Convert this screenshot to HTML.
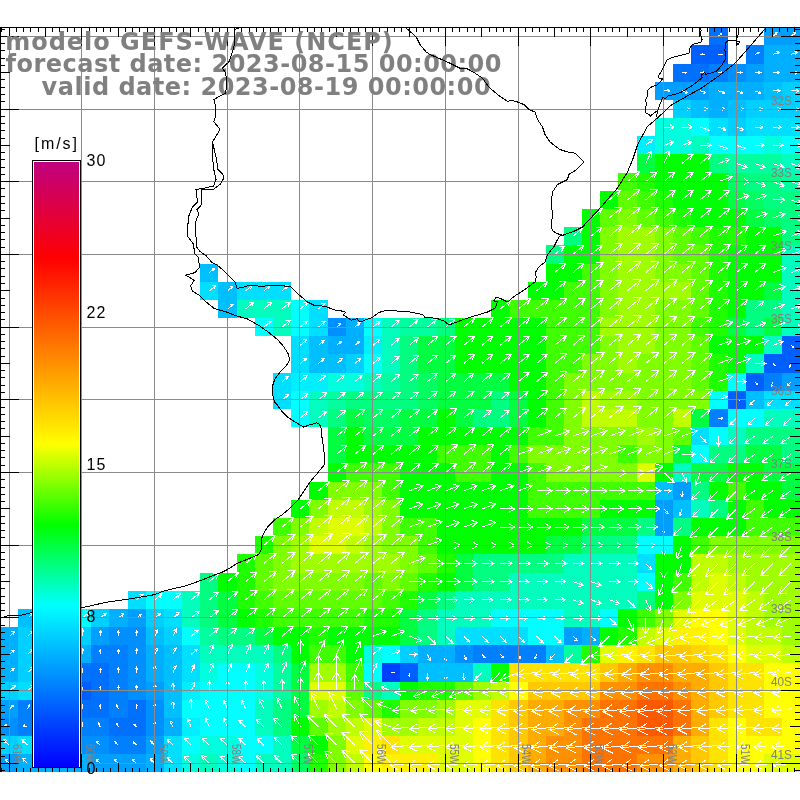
<!DOCTYPE html><html><head><meta charset="utf-8"><title>GEFS-WAVE</title><style>html,body{margin:0;padding:0;background:#fff;width:800px;height:800px;overflow:hidden}svg{position:absolute;left:0;top:0}</style></head><body>
<svg width="800" height="800" viewBox="0 0 800 800">
<defs><linearGradient id="cb" x1="0" y1="1" x2="0" y2="0">
<stop offset="0.0000" stop-color="#0000ff"/>
<stop offset="0.2667" stop-color="#00ffff"/>
<stop offset="0.4000" stop-color="#00ff00"/>
<stop offset="0.5333" stop-color="#ffff00"/>
<stop offset="0.8400" stop-color="#ff0000"/>
<stop offset="1.0000" stop-color="#c00080"/>
</linearGradient></defs>
<g shape-rendering="crispEdges">
<rect x="709" y="27" width="19" height="18" fill="#0070ff"/>
<rect x="764" y="27" width="36" height="18" fill="#009fff"/>
<rect x="691" y="45" width="37" height="19" fill="#0060ff"/>
<rect x="746" y="45" width="18" height="19" fill="#0080ff"/>
<rect x="764" y="45" width="36" height="19" fill="#00afff"/>
<rect x="673" y="64" width="36" height="18" fill="#0070ff"/>
<rect x="709" y="64" width="19" height="18" fill="#0080ff"/>
<rect x="728" y="64" width="18" height="18" fill="#008fff"/>
<rect x="746" y="64" width="18" height="18" fill="#009fff"/>
<rect x="764" y="64" width="36" height="18" fill="#00afff"/>
<rect x="655" y="82" width="54" height="18" fill="#009fff"/>
<rect x="709" y="82" width="55" height="18" fill="#00afff"/>
<rect x="764" y="82" width="18" height="18" fill="#00bfff"/>
<rect x="782" y="82" width="18" height="18" fill="#00cfff"/>
<rect x="673" y="100" width="18" height="18" fill="#00cfff"/>
<rect x="691" y="100" width="18" height="18" fill="#00bfff"/>
<rect x="709" y="100" width="19" height="18" fill="#00afff"/>
<rect x="728" y="100" width="18" height="18" fill="#00bfff"/>
<rect x="746" y="100" width="54" height="18" fill="#00cfff"/>
<rect x="655" y="118" width="36" height="18" fill="#00ffdf"/>
<rect x="691" y="118" width="18" height="18" fill="#00ffff"/>
<rect x="709" y="118" width="19" height="18" fill="#00dfff"/>
<rect x="728" y="118" width="18" height="18" fill="#00cfff"/>
<rect x="746" y="118" width="54" height="18" fill="#00dfff"/>
<rect x="637" y="136" width="18" height="18" fill="#00efff"/>
<rect x="655" y="136" width="36" height="18" fill="#00ffdf"/>
<rect x="691" y="136" width="18" height="18" fill="#00ffbf"/>
<rect x="709" y="136" width="55" height="18" fill="#00ffff"/>
<rect x="764" y="136" width="18" height="18" fill="#00ffdf"/>
<rect x="782" y="136" width="18" height="18" fill="#00ffff"/>
<rect x="637" y="154" width="18" height="19" fill="#00ff40"/>
<rect x="655" y="154" width="54" height="19" fill="#00ff00"/>
<rect x="709" y="154" width="19" height="19" fill="#00ff80"/>
<rect x="728" y="154" width="54" height="19" fill="#00ff9f"/>
<rect x="782" y="154" width="18" height="19" fill="#00ffbf"/>
<rect x="618" y="173" width="19" height="18" fill="#40ff00"/>
<rect x="637" y="173" width="18" height="18" fill="#20ff00"/>
<rect x="655" y="173" width="73" height="18" fill="#00ff00"/>
<rect x="728" y="173" width="18" height="18" fill="#00ff60"/>
<rect x="746" y="173" width="36" height="18" fill="#00ff80"/>
<rect x="782" y="173" width="18" height="18" fill="#00ff9f"/>
<rect x="600" y="191" width="18" height="18" fill="#00ff00"/>
<rect x="618" y="191" width="19" height="18" fill="#60ff00"/>
<rect x="637" y="191" width="18" height="18" fill="#40ff00"/>
<rect x="655" y="191" width="18" height="18" fill="#20ff00"/>
<rect x="673" y="191" width="55" height="18" fill="#00ff00"/>
<rect x="728" y="191" width="18" height="18" fill="#00ff40"/>
<rect x="746" y="191" width="18" height="18" fill="#00ff60"/>
<rect x="764" y="191" width="36" height="18" fill="#00ff80"/>
<rect x="582" y="209" width="18" height="18" fill="#00ff00"/>
<rect x="600" y="209" width="18" height="18" fill="#60ff00"/>
<rect x="618" y="209" width="19" height="18" fill="#80ff00"/>
<rect x="637" y="209" width="18" height="18" fill="#60ff00"/>
<rect x="655" y="209" width="18" height="18" fill="#40ff00"/>
<rect x="673" y="209" width="18" height="18" fill="#20ff00"/>
<rect x="691" y="209" width="55" height="18" fill="#00ff00"/>
<rect x="746" y="209" width="18" height="18" fill="#00ff40"/>
<rect x="764" y="209" width="18" height="18" fill="#00ff60"/>
<rect x="782" y="209" width="18" height="18" fill="#00ff80"/>
<rect x="564" y="227" width="18" height="18" fill="#00ff80"/>
<rect x="582" y="227" width="18" height="18" fill="#00ff00"/>
<rect x="600" y="227" width="18" height="18" fill="#80ff00"/>
<rect x="618" y="227" width="37" height="18" fill="#9fff00"/>
<rect x="655" y="227" width="18" height="18" fill="#80ff00"/>
<rect x="673" y="227" width="18" height="18" fill="#60ff00"/>
<rect x="691" y="227" width="18" height="18" fill="#40ff00"/>
<rect x="709" y="227" width="37" height="18" fill="#20ff00"/>
<rect x="746" y="227" width="36" height="18" fill="#00ff00"/>
<rect x="782" y="227" width="18" height="18" fill="#00ff80"/>
<rect x="546" y="245" width="18" height="19" fill="#00ff80"/>
<rect x="564" y="245" width="36" height="19" fill="#00ff00"/>
<rect x="600" y="245" width="18" height="19" fill="#80ff00"/>
<rect x="618" y="245" width="37" height="19" fill="#9fff00"/>
<rect x="655" y="245" width="18" height="19" fill="#80ff00"/>
<rect x="673" y="245" width="36" height="19" fill="#60ff00"/>
<rect x="709" y="245" width="19" height="19" fill="#20ff00"/>
<rect x="728" y="245" width="54" height="19" fill="#00ff00"/>
<rect x="782" y="245" width="18" height="19" fill="#00ffbf"/>
<rect x="200" y="264" width="18" height="18" fill="#00bfff"/>
<rect x="546" y="264" width="36" height="18" fill="#00ff00"/>
<rect x="582" y="264" width="18" height="18" fill="#40ff00"/>
<rect x="600" y="264" width="18" height="18" fill="#80ff00"/>
<rect x="618" y="264" width="37" height="18" fill="#9fff00"/>
<rect x="655" y="264" width="36" height="18" fill="#80ff00"/>
<rect x="691" y="264" width="18" height="18" fill="#60ff00"/>
<rect x="709" y="264" width="19" height="18" fill="#20ff00"/>
<rect x="728" y="264" width="54" height="18" fill="#00ff00"/>
<rect x="782" y="264" width="18" height="18" fill="#00ffbf"/>
<rect x="200" y="282" width="18" height="18" fill="#00dfff"/>
<rect x="218" y="282" width="19" height="18" fill="#00bfff"/>
<rect x="237" y="282" width="54" height="18" fill="#00dfff"/>
<rect x="528" y="282" width="36" height="18" fill="#00ff00"/>
<rect x="564" y="282" width="36" height="18" fill="#40ff00"/>
<rect x="600" y="282" width="18" height="18" fill="#80ff00"/>
<rect x="618" y="282" width="73" height="18" fill="#9fff00"/>
<rect x="691" y="282" width="18" height="18" fill="#60ff00"/>
<rect x="709" y="282" width="19" height="18" fill="#20ff00"/>
<rect x="728" y="282" width="36" height="18" fill="#00ff00"/>
<rect x="764" y="282" width="18" height="18" fill="#00ff40"/>
<rect x="782" y="282" width="18" height="18" fill="#00ffbf"/>
<rect x="218" y="300" width="19" height="18" fill="#00bfff"/>
<rect x="237" y="300" width="54" height="18" fill="#00ffbf"/>
<rect x="291" y="300" width="18" height="18" fill="#00ffff"/>
<rect x="309" y="300" width="19" height="18" fill="#00dfff"/>
<rect x="491" y="300" width="18" height="18" fill="#00ff00"/>
<rect x="509" y="300" width="91" height="18" fill="#40ff00"/>
<rect x="600" y="300" width="18" height="18" fill="#80ff00"/>
<rect x="618" y="300" width="37" height="18" fill="#9fff00"/>
<rect x="655" y="300" width="36" height="18" fill="#80ff00"/>
<rect x="691" y="300" width="18" height="18" fill="#60ff00"/>
<rect x="709" y="300" width="19" height="18" fill="#20ff00"/>
<rect x="728" y="300" width="18" height="18" fill="#00ff00"/>
<rect x="746" y="300" width="36" height="18" fill="#00ff80"/>
<rect x="782" y="300" width="18" height="18" fill="#00ffbf"/>
<rect x="255" y="318" width="18" height="18" fill="#00ffff"/>
<rect x="273" y="318" width="18" height="18" fill="#00ffbf"/>
<rect x="291" y="318" width="18" height="18" fill="#00ffff"/>
<rect x="309" y="318" width="19" height="18" fill="#00dfff"/>
<rect x="328" y="318" width="18" height="18" fill="#008fff"/>
<rect x="346" y="318" width="18" height="18" fill="#00afff"/>
<rect x="364" y="318" width="18" height="18" fill="#00ffff"/>
<rect x="382" y="318" width="18" height="18" fill="#00ffbf"/>
<rect x="400" y="318" width="37" height="18" fill="#00ff9f"/>
<rect x="437" y="318" width="18" height="18" fill="#00ff80"/>
<rect x="455" y="318" width="91" height="18" fill="#00ff00"/>
<rect x="546" y="318" width="54" height="18" fill="#40ff00"/>
<rect x="600" y="318" width="55" height="18" fill="#9fff00"/>
<rect x="655" y="318" width="36" height="18" fill="#80ff00"/>
<rect x="691" y="318" width="18" height="18" fill="#40ff00"/>
<rect x="709" y="318" width="19" height="18" fill="#20ff00"/>
<rect x="728" y="318" width="18" height="18" fill="#00ff40"/>
<rect x="746" y="318" width="18" height="18" fill="#00ff80"/>
<rect x="764" y="318" width="18" height="18" fill="#00ff40"/>
<rect x="782" y="318" width="18" height="18" fill="#00ffbf"/>
<rect x="291" y="336" width="18" height="18" fill="#00dfff"/>
<rect x="309" y="336" width="19" height="18" fill="#00bfff"/>
<rect x="328" y="336" width="36" height="18" fill="#00afff"/>
<rect x="364" y="336" width="18" height="18" fill="#00efff"/>
<rect x="382" y="336" width="18" height="18" fill="#00ffbf"/>
<rect x="400" y="336" width="18" height="18" fill="#00ff80"/>
<rect x="418" y="336" width="37" height="18" fill="#00ff40"/>
<rect x="455" y="336" width="91" height="18" fill="#00ff00"/>
<rect x="546" y="336" width="54" height="18" fill="#40ff00"/>
<rect x="600" y="336" width="18" height="18" fill="#80ff00"/>
<rect x="618" y="336" width="37" height="18" fill="#9fff00"/>
<rect x="655" y="336" width="36" height="18" fill="#80ff00"/>
<rect x="691" y="336" width="18" height="18" fill="#60ff00"/>
<rect x="709" y="336" width="55" height="18" fill="#00ff00"/>
<rect x="764" y="336" width="18" height="18" fill="#00ffbf"/>
<rect x="782" y="336" width="18" height="18" fill="#0060ff"/>
<rect x="291" y="354" width="18" height="19" fill="#00dfff"/>
<rect x="309" y="354" width="37" height="19" fill="#00bfff"/>
<rect x="346" y="354" width="18" height="19" fill="#00cfff"/>
<rect x="364" y="354" width="18" height="19" fill="#00ffff"/>
<rect x="382" y="354" width="18" height="19" fill="#00ffbf"/>
<rect x="400" y="354" width="18" height="19" fill="#00ff80"/>
<rect x="418" y="354" width="37" height="19" fill="#00ff40"/>
<rect x="455" y="354" width="91" height="19" fill="#00ff00"/>
<rect x="546" y="354" width="36" height="19" fill="#40ff00"/>
<rect x="582" y="354" width="36" height="19" fill="#80ff00"/>
<rect x="618" y="354" width="19" height="19" fill="#9fff00"/>
<rect x="637" y="354" width="54" height="19" fill="#80ff00"/>
<rect x="691" y="354" width="18" height="19" fill="#60ff00"/>
<rect x="709" y="354" width="19" height="19" fill="#20ff00"/>
<rect x="728" y="354" width="18" height="19" fill="#00ff00"/>
<rect x="746" y="354" width="18" height="19" fill="#00ffbf"/>
<rect x="764" y="354" width="36" height="19" fill="#0060ff"/>
<rect x="273" y="373" width="18" height="18" fill="#00dfff"/>
<rect x="291" y="373" width="37" height="18" fill="#00efff"/>
<rect x="328" y="373" width="36" height="18" fill="#00ffdf"/>
<rect x="364" y="373" width="18" height="18" fill="#00ffbf"/>
<rect x="382" y="373" width="18" height="18" fill="#00ff9f"/>
<rect x="400" y="373" width="18" height="18" fill="#00ff80"/>
<rect x="418" y="373" width="19" height="18" fill="#00ff60"/>
<rect x="437" y="373" width="72" height="18" fill="#00ff40"/>
<rect x="509" y="373" width="37" height="18" fill="#00ff00"/>
<rect x="546" y="373" width="18" height="18" fill="#40ff00"/>
<rect x="564" y="373" width="127" height="18" fill="#80ff00"/>
<rect x="691" y="373" width="18" height="18" fill="#60ff00"/>
<rect x="709" y="373" width="19" height="18" fill="#20ff00"/>
<rect x="728" y="373" width="18" height="18" fill="#00ffff"/>
<rect x="746" y="373" width="18" height="18" fill="#0060ff"/>
<rect x="764" y="373" width="18" height="18" fill="#0080ff"/>
<rect x="782" y="373" width="18" height="18" fill="#009fff"/>
<rect x="273" y="391" width="18" height="18" fill="#00dfff"/>
<rect x="291" y="391" width="18" height="18" fill="#00ffff"/>
<rect x="309" y="391" width="19" height="18" fill="#00ffbf"/>
<rect x="328" y="391" width="18" height="18" fill="#00ff9f"/>
<rect x="346" y="391" width="72" height="18" fill="#00ff80"/>
<rect x="418" y="391" width="19" height="18" fill="#00ff60"/>
<rect x="437" y="391" width="54" height="18" fill="#00ff40"/>
<rect x="491" y="391" width="18" height="18" fill="#00ff80"/>
<rect x="509" y="391" width="19" height="18" fill="#00ff40"/>
<rect x="528" y="391" width="18" height="18" fill="#00ff00"/>
<rect x="546" y="391" width="18" height="18" fill="#40ff00"/>
<rect x="564" y="391" width="18" height="18" fill="#80ff00"/>
<rect x="582" y="391" width="18" height="18" fill="#bfff00"/>
<rect x="600" y="391" width="37" height="18" fill="#9fff00"/>
<rect x="637" y="391" width="72" height="18" fill="#80ff00"/>
<rect x="709" y="391" width="19" height="18" fill="#00ffff"/>
<rect x="728" y="391" width="18" height="18" fill="#0060ff"/>
<rect x="746" y="391" width="18" height="18" fill="#00bfff"/>
<rect x="764" y="391" width="36" height="18" fill="#00dfff"/>
<rect x="291" y="409" width="18" height="18" fill="#00ffff"/>
<rect x="309" y="409" width="19" height="18" fill="#00ffbf"/>
<rect x="328" y="409" width="18" height="18" fill="#00ff80"/>
<rect x="346" y="409" width="18" height="18" fill="#00ff40"/>
<rect x="364" y="409" width="36" height="18" fill="#00ff60"/>
<rect x="400" y="409" width="37" height="18" fill="#00ff40"/>
<rect x="437" y="409" width="18" height="18" fill="#00ff00"/>
<rect x="455" y="409" width="18" height="18" fill="#00ff40"/>
<rect x="473" y="409" width="36" height="18" fill="#00ff80"/>
<rect x="509" y="409" width="19" height="18" fill="#00ff40"/>
<rect x="528" y="409" width="18" height="18" fill="#00ff00"/>
<rect x="546" y="409" width="18" height="18" fill="#40ff00"/>
<rect x="564" y="409" width="18" height="18" fill="#80ff00"/>
<rect x="582" y="409" width="55" height="18" fill="#bfff00"/>
<rect x="637" y="409" width="36" height="18" fill="#80ff00"/>
<rect x="673" y="409" width="18" height="18" fill="#bfff00"/>
<rect x="691" y="409" width="18" height="18" fill="#00ff40"/>
<rect x="709" y="409" width="19" height="18" fill="#0080ff"/>
<rect x="728" y="409" width="36" height="18" fill="#00ffff"/>
<rect x="764" y="409" width="36" height="18" fill="#00ffbf"/>
<rect x="328" y="427" width="18" height="18" fill="#00ff40"/>
<rect x="346" y="427" width="18" height="18" fill="#00ff00"/>
<rect x="364" y="427" width="54" height="18" fill="#00ff40"/>
<rect x="418" y="427" width="110" height="18" fill="#00ff00"/>
<rect x="528" y="427" width="36" height="18" fill="#40ff00"/>
<rect x="564" y="427" width="73" height="18" fill="#80ff00"/>
<rect x="637" y="427" width="18" height="18" fill="#9fff00"/>
<rect x="655" y="427" width="18" height="18" fill="#80ff00"/>
<rect x="673" y="427" width="18" height="18" fill="#60ff00"/>
<rect x="691" y="427" width="18" height="18" fill="#00dfff"/>
<rect x="709" y="427" width="19" height="18" fill="#00ffff"/>
<rect x="728" y="427" width="18" height="18" fill="#00ffbf"/>
<rect x="746" y="427" width="54" height="18" fill="#00ff80"/>
<rect x="328" y="445" width="18" height="18" fill="#00ff40"/>
<rect x="346" y="445" width="91" height="18" fill="#00ff00"/>
<rect x="437" y="445" width="54" height="18" fill="#40ff00"/>
<rect x="491" y="445" width="18" height="18" fill="#00ff00"/>
<rect x="509" y="445" width="19" height="18" fill="#40ff00"/>
<rect x="528" y="445" width="90" height="18" fill="#80ff00"/>
<rect x="618" y="445" width="19" height="18" fill="#40ff00"/>
<rect x="637" y="445" width="36" height="18" fill="#80ff00"/>
<rect x="673" y="445" width="18" height="18" fill="#00ff40"/>
<rect x="691" y="445" width="18" height="18" fill="#00ffff"/>
<rect x="709" y="445" width="37" height="18" fill="#00ff80"/>
<rect x="746" y="445" width="36" height="18" fill="#00ff40"/>
<rect x="782" y="445" width="18" height="18" fill="#00ff80"/>
<rect x="328" y="463" width="18" height="19" fill="#00ff00"/>
<rect x="346" y="463" width="54" height="19" fill="#40ff00"/>
<rect x="400" y="463" width="55" height="19" fill="#00ff00"/>
<rect x="455" y="463" width="36" height="19" fill="#40ff00"/>
<rect x="491" y="463" width="37" height="19" fill="#00ff00"/>
<rect x="528" y="463" width="18" height="19" fill="#40ff00"/>
<rect x="546" y="463" width="91" height="19" fill="#80ff00"/>
<rect x="637" y="463" width="18" height="19" fill="#dfff00"/>
<rect x="655" y="463" width="18" height="19" fill="#00ff00"/>
<rect x="673" y="463" width="18" height="19" fill="#00ffbf"/>
<rect x="691" y="463" width="37" height="19" fill="#00ff40"/>
<rect x="728" y="463" width="36" height="19" fill="#00ff00"/>
<rect x="764" y="463" width="36" height="19" fill="#00ff40"/>
<rect x="309" y="482" width="19" height="18" fill="#00ff00"/>
<rect x="328" y="482" width="54" height="18" fill="#80ff00"/>
<rect x="382" y="482" width="18" height="18" fill="#40ff00"/>
<rect x="400" y="482" width="128" height="18" fill="#00ff00"/>
<rect x="528" y="482" width="127" height="18" fill="#40ff00"/>
<rect x="655" y="482" width="18" height="18" fill="#00bfff"/>
<rect x="673" y="482" width="18" height="18" fill="#009fff"/>
<rect x="691" y="482" width="18" height="18" fill="#00ff80"/>
<rect x="709" y="482" width="19" height="18" fill="#00ff00"/>
<rect x="728" y="482" width="18" height="18" fill="#40ff00"/>
<rect x="746" y="482" width="36" height="18" fill="#00ff00"/>
<rect x="782" y="482" width="18" height="18" fill="#00ff40"/>
<rect x="291" y="500" width="18" height="18" fill="#00ff00"/>
<rect x="309" y="500" width="19" height="18" fill="#80ff00"/>
<rect x="328" y="500" width="36" height="18" fill="#bfff00"/>
<rect x="364" y="500" width="18" height="18" fill="#9fff00"/>
<rect x="382" y="500" width="18" height="18" fill="#80ff00"/>
<rect x="400" y="500" width="128" height="18" fill="#00ff00"/>
<rect x="528" y="500" width="72" height="18" fill="#40ff00"/>
<rect x="600" y="500" width="55" height="18" fill="#00ff00"/>
<rect x="655" y="500" width="18" height="18" fill="#009fff"/>
<rect x="673" y="500" width="18" height="18" fill="#00bfff"/>
<rect x="691" y="500" width="18" height="18" fill="#00ffbf"/>
<rect x="709" y="500" width="19" height="18" fill="#00ff80"/>
<rect x="728" y="500" width="18" height="18" fill="#00ff00"/>
<rect x="746" y="500" width="18" height="18" fill="#40ff00"/>
<rect x="764" y="500" width="36" height="18" fill="#00ff00"/>
<rect x="273" y="518" width="18" height="18" fill="#40ff00"/>
<rect x="291" y="518" width="18" height="18" fill="#80ff00"/>
<rect x="309" y="518" width="19" height="18" fill="#bfff00"/>
<rect x="328" y="518" width="36" height="18" fill="#dfff00"/>
<rect x="364" y="518" width="18" height="18" fill="#bfff00"/>
<rect x="382" y="518" width="18" height="18" fill="#80ff00"/>
<rect x="400" y="518" width="37" height="18" fill="#40ff00"/>
<rect x="437" y="518" width="145" height="18" fill="#00ff00"/>
<rect x="582" y="518" width="55" height="18" fill="#00ff40"/>
<rect x="637" y="518" width="18" height="18" fill="#00ff80"/>
<rect x="655" y="518" width="18" height="18" fill="#009fff"/>
<rect x="673" y="518" width="18" height="18" fill="#00ff80"/>
<rect x="691" y="518" width="55" height="18" fill="#00ff00"/>
<rect x="746" y="518" width="54" height="18" fill="#40ff00"/>
<rect x="255" y="536" width="18" height="18" fill="#20ff00"/>
<rect x="273" y="536" width="18" height="18" fill="#80ff00"/>
<rect x="291" y="536" width="18" height="18" fill="#9fff00"/>
<rect x="309" y="536" width="37" height="18" fill="#dfff00"/>
<rect x="346" y="536" width="18" height="18" fill="#bfff00"/>
<rect x="364" y="536" width="18" height="18" fill="#9fff00"/>
<rect x="382" y="536" width="36" height="18" fill="#80ff00"/>
<rect x="418" y="536" width="19" height="18" fill="#40ff00"/>
<rect x="437" y="536" width="109" height="18" fill="#00ff00"/>
<rect x="546" y="536" width="36" height="18" fill="#00ff40"/>
<rect x="582" y="536" width="55" height="18" fill="#00ff80"/>
<rect x="637" y="536" width="36" height="18" fill="#00ffff"/>
<rect x="673" y="536" width="18" height="18" fill="#00ff00"/>
<rect x="691" y="536" width="18" height="18" fill="#40ff00"/>
<rect x="709" y="536" width="91" height="18" fill="#80ff00"/>
<rect x="237" y="554" width="18" height="19" fill="#20ff00"/>
<rect x="255" y="554" width="18" height="19" fill="#60ff00"/>
<rect x="273" y="554" width="18" height="19" fill="#80ff00"/>
<rect x="291" y="554" width="109" height="19" fill="#9fff00"/>
<rect x="400" y="554" width="18" height="19" fill="#80ff00"/>
<rect x="418" y="554" width="19" height="19" fill="#60ff00"/>
<rect x="437" y="554" width="18" height="19" fill="#20ff00"/>
<rect x="455" y="554" width="18" height="19" fill="#00ff40"/>
<rect x="473" y="554" width="91" height="19" fill="#00ff80"/>
<rect x="564" y="554" width="73" height="19" fill="#00ffbf"/>
<rect x="637" y="554" width="18" height="19" fill="#00dfff"/>
<rect x="655" y="554" width="36" height="19" fill="#00ff00"/>
<rect x="691" y="554" width="37" height="19" fill="#bfff00"/>
<rect x="728" y="554" width="72" height="19" fill="#9fff00"/>
<rect x="200" y="573" width="18" height="18" fill="#00ff80"/>
<rect x="218" y="573" width="19" height="18" fill="#00ff00"/>
<rect x="237" y="573" width="18" height="18" fill="#20ff00"/>
<rect x="255" y="573" width="18" height="18" fill="#60ff00"/>
<rect x="273" y="573" width="91" height="18" fill="#80ff00"/>
<rect x="364" y="573" width="18" height="18" fill="#60ff00"/>
<rect x="382" y="573" width="18" height="18" fill="#80ff00"/>
<rect x="400" y="573" width="18" height="18" fill="#60ff00"/>
<rect x="418" y="573" width="19" height="18" fill="#20ff00"/>
<rect x="437" y="573" width="18" height="18" fill="#00ff00"/>
<rect x="455" y="573" width="18" height="18" fill="#00ff40"/>
<rect x="473" y="573" width="36" height="18" fill="#00ff80"/>
<rect x="509" y="573" width="128" height="18" fill="#00ffbf"/>
<rect x="637" y="573" width="18" height="18" fill="#00ffff"/>
<rect x="655" y="573" width="18" height="18" fill="#00ff00"/>
<rect x="673" y="573" width="18" height="18" fill="#40ff00"/>
<rect x="691" y="573" width="18" height="18" fill="#bfff00"/>
<rect x="709" y="573" width="19" height="18" fill="#dfff00"/>
<rect x="728" y="573" width="18" height="18" fill="#bfff00"/>
<rect x="746" y="573" width="54" height="18" fill="#9fff00"/>
<rect x="128" y="591" width="18" height="18" fill="#00dfff"/>
<rect x="146" y="591" width="36" height="18" fill="#00ffff"/>
<rect x="182" y="591" width="18" height="18" fill="#00ffbf"/>
<rect x="200" y="591" width="18" height="18" fill="#00ff80"/>
<rect x="218" y="591" width="19" height="18" fill="#00ff40"/>
<rect x="237" y="591" width="18" height="18" fill="#20ff00"/>
<rect x="255" y="591" width="18" height="18" fill="#40ff00"/>
<rect x="273" y="591" width="109" height="18" fill="#60ff00"/>
<rect x="382" y="591" width="18" height="18" fill="#40ff00"/>
<rect x="400" y="591" width="18" height="18" fill="#20ff00"/>
<rect x="418" y="591" width="19" height="18" fill="#00ff40"/>
<rect x="437" y="591" width="18" height="18" fill="#00ff80"/>
<rect x="455" y="591" width="182" height="18" fill="#00ffbf"/>
<rect x="637" y="591" width="18" height="18" fill="#00ff80"/>
<rect x="655" y="591" width="18" height="18" fill="#00ff00"/>
<rect x="673" y="591" width="18" height="18" fill="#80ff00"/>
<rect x="691" y="591" width="55" height="18" fill="#dfff00"/>
<rect x="746" y="591" width="18" height="18" fill="#bfff00"/>
<rect x="764" y="591" width="36" height="18" fill="#9fff00"/>
<rect x="18" y="609" width="55" height="18" fill="#00bfff"/>
<rect x="73" y="609" width="18" height="18" fill="#00ffff"/>
<rect x="91" y="609" width="18" height="18" fill="#00cfff"/>
<rect x="109" y="609" width="19" height="18" fill="#00afff"/>
<rect x="128" y="609" width="18" height="18" fill="#009fff"/>
<rect x="146" y="609" width="18" height="18" fill="#00cfff"/>
<rect x="164" y="609" width="18" height="18" fill="#00dfff"/>
<rect x="182" y="609" width="18" height="18" fill="#00ffbf"/>
<rect x="200" y="609" width="18" height="18" fill="#00ff80"/>
<rect x="218" y="609" width="19" height="18" fill="#00ff40"/>
<rect x="237" y="609" width="18" height="18" fill="#00ff00"/>
<rect x="255" y="609" width="18" height="18" fill="#20ff00"/>
<rect x="273" y="609" width="91" height="18" fill="#40ff00"/>
<rect x="364" y="609" width="36" height="18" fill="#20ff00"/>
<rect x="400" y="609" width="18" height="18" fill="#00ff40"/>
<rect x="418" y="609" width="19" height="18" fill="#00ff80"/>
<rect x="437" y="609" width="54" height="18" fill="#00ffbf"/>
<rect x="491" y="609" width="73" height="18" fill="#00ffff"/>
<rect x="564" y="609" width="36" height="18" fill="#00ffbf"/>
<rect x="600" y="609" width="18" height="18" fill="#00ffff"/>
<rect x="618" y="609" width="19" height="18" fill="#00ff00"/>
<rect x="637" y="609" width="18" height="18" fill="#40ff00"/>
<rect x="655" y="609" width="18" height="18" fill="#80ff00"/>
<rect x="673" y="609" width="18" height="18" fill="#dfff00"/>
<rect x="691" y="609" width="37" height="18" fill="#ffff00"/>
<rect x="728" y="609" width="18" height="18" fill="#dfff00"/>
<rect x="746" y="609" width="18" height="18" fill="#bfff00"/>
<rect x="764" y="609" width="36" height="18" fill="#9fff00"/>
<rect x="0" y="627" width="18" height="18" fill="#00afff"/>
<rect x="18" y="627" width="73" height="18" fill="#00cfff"/>
<rect x="91" y="627" width="18" height="18" fill="#009fff"/>
<rect x="109" y="627" width="37" height="18" fill="#008fff"/>
<rect x="146" y="627" width="18" height="18" fill="#00bfff"/>
<rect x="164" y="627" width="18" height="18" fill="#00cfff"/>
<rect x="182" y="627" width="18" height="18" fill="#00ffff"/>
<rect x="200" y="627" width="18" height="18" fill="#00ff9f"/>
<rect x="218" y="627" width="37" height="18" fill="#00ff80"/>
<rect x="255" y="627" width="18" height="18" fill="#00ff40"/>
<rect x="273" y="627" width="36" height="18" fill="#00ff00"/>
<rect x="309" y="627" width="19" height="18" fill="#20ff00"/>
<rect x="328" y="627" width="72" height="18" fill="#00ff00"/>
<rect x="400" y="627" width="18" height="18" fill="#00ff40"/>
<rect x="418" y="627" width="19" height="18" fill="#00ff80"/>
<rect x="437" y="627" width="18" height="18" fill="#00ffbf"/>
<rect x="455" y="627" width="73" height="18" fill="#00dfff"/>
<rect x="528" y="627" width="36" height="18" fill="#00ffff"/>
<rect x="564" y="627" width="18" height="18" fill="#009fff"/>
<rect x="582" y="627" width="18" height="18" fill="#00afff"/>
<rect x="600" y="627" width="18" height="18" fill="#00ff00"/>
<rect x="618" y="627" width="19" height="18" fill="#20ff00"/>
<rect x="637" y="627" width="18" height="18" fill="#bfff00"/>
<rect x="655" y="627" width="18" height="18" fill="#dfff00"/>
<rect x="673" y="627" width="36" height="18" fill="#fff100"/>
<rect x="709" y="627" width="19" height="18" fill="#ffff00"/>
<rect x="728" y="627" width="18" height="18" fill="#dfff00"/>
<rect x="746" y="627" width="36" height="18" fill="#bfff00"/>
<rect x="782" y="627" width="18" height="18" fill="#9fff00"/>
<rect x="0" y="645" width="18" height="18" fill="#00afff"/>
<rect x="18" y="645" width="55" height="18" fill="#00cfff"/>
<rect x="73" y="645" width="18" height="18" fill="#00afff"/>
<rect x="91" y="645" width="37" height="18" fill="#0080ff"/>
<rect x="128" y="645" width="18" height="18" fill="#008fff"/>
<rect x="146" y="645" width="18" height="18" fill="#00afff"/>
<rect x="164" y="645" width="18" height="18" fill="#00bfff"/>
<rect x="182" y="645" width="18" height="18" fill="#00dfff"/>
<rect x="200" y="645" width="73" height="18" fill="#00ffbf"/>
<rect x="273" y="645" width="18" height="18" fill="#00ff80"/>
<rect x="291" y="645" width="18" height="18" fill="#00ff00"/>
<rect x="309" y="645" width="37" height="18" fill="#40ff00"/>
<rect x="346" y="645" width="18" height="18" fill="#00ff00"/>
<rect x="364" y="645" width="18" height="18" fill="#00ffdf"/>
<rect x="382" y="645" width="18" height="18" fill="#00ffff"/>
<rect x="400" y="645" width="18" height="18" fill="#00cfff"/>
<rect x="418" y="645" width="37" height="18" fill="#00afff"/>
<rect x="455" y="645" width="18" height="18" fill="#008fff"/>
<rect x="473" y="645" width="73" height="18" fill="#0080ff"/>
<rect x="546" y="645" width="18" height="18" fill="#00bfff"/>
<rect x="564" y="645" width="18" height="18" fill="#00ff9f"/>
<rect x="582" y="645" width="18" height="18" fill="#20ff00"/>
<rect x="600" y="645" width="18" height="18" fill="#dfff00"/>
<rect x="618" y="645" width="19" height="18" fill="#fff100"/>
<rect x="637" y="645" width="18" height="18" fill="#ffe300"/>
<rect x="655" y="645" width="36" height="18" fill="#ffc800"/>
<rect x="691" y="645" width="18" height="18" fill="#ffd500"/>
<rect x="709" y="645" width="19" height="18" fill="#ffe300"/>
<rect x="728" y="645" width="18" height="18" fill="#ffff00"/>
<rect x="746" y="645" width="36" height="18" fill="#dfff00"/>
<rect x="782" y="645" width="18" height="18" fill="#bfff00"/>
<rect x="0" y="663" width="18" height="19" fill="#00afff"/>
<rect x="18" y="663" width="55" height="19" fill="#00cfff"/>
<rect x="73" y="663" width="36" height="19" fill="#0070ff"/>
<rect x="109" y="663" width="19" height="19" fill="#0080ff"/>
<rect x="128" y="663" width="18" height="19" fill="#008fff"/>
<rect x="146" y="663" width="18" height="19" fill="#00afff"/>
<rect x="164" y="663" width="18" height="19" fill="#00bfff"/>
<rect x="182" y="663" width="18" height="19" fill="#00dfff"/>
<rect x="200" y="663" width="18" height="19" fill="#00ffdf"/>
<rect x="218" y="663" width="37" height="19" fill="#00ffff"/>
<rect x="255" y="663" width="18" height="19" fill="#00ffdf"/>
<rect x="273" y="663" width="18" height="19" fill="#00ff9f"/>
<rect x="291" y="663" width="18" height="19" fill="#00ff40"/>
<rect x="309" y="663" width="37" height="19" fill="#9fff00"/>
<rect x="346" y="663" width="18" height="19" fill="#40ff00"/>
<rect x="364" y="663" width="18" height="19" fill="#00ffff"/>
<rect x="382" y="663" width="18" height="19" fill="#0040ff"/>
<rect x="400" y="663" width="18" height="19" fill="#0060ff"/>
<rect x="418" y="663" width="55" height="19" fill="#00bfff"/>
<rect x="473" y="663" width="18" height="19" fill="#00ffbf"/>
<rect x="491" y="663" width="18" height="19" fill="#00ff00"/>
<rect x="509" y="663" width="91" height="19" fill="#ffe300"/>
<rect x="600" y="663" width="18" height="19" fill="#ffc800"/>
<rect x="618" y="663" width="19" height="19" fill="#ffac00"/>
<rect x="637" y="663" width="36" height="19" fill="#ff9000"/>
<rect x="673" y="663" width="36" height="19" fill="#ffac00"/>
<rect x="709" y="663" width="19" height="19" fill="#ffc800"/>
<rect x="728" y="663" width="36" height="19" fill="#ffe300"/>
<rect x="764" y="663" width="36" height="19" fill="#ffff00"/>
<rect x="0" y="682" width="18" height="18" fill="#00cfff"/>
<rect x="18" y="682" width="55" height="18" fill="#00dfff"/>
<rect x="73" y="682" width="18" height="18" fill="#0060ff"/>
<rect x="91" y="682" width="18" height="18" fill="#0070ff"/>
<rect x="109" y="682" width="19" height="18" fill="#0080ff"/>
<rect x="128" y="682" width="18" height="18" fill="#008fff"/>
<rect x="146" y="682" width="18" height="18" fill="#009fff"/>
<rect x="164" y="682" width="18" height="18" fill="#00bfff"/>
<rect x="182" y="682" width="18" height="18" fill="#00efff"/>
<rect x="200" y="682" width="55" height="18" fill="#00ffff"/>
<rect x="255" y="682" width="18" height="18" fill="#00ffdf"/>
<rect x="273" y="682" width="18" height="18" fill="#00ff9f"/>
<rect x="291" y="682" width="18" height="18" fill="#00ff40"/>
<rect x="309" y="682" width="37" height="18" fill="#dfff00"/>
<rect x="346" y="682" width="18" height="18" fill="#60ff00"/>
<rect x="364" y="682" width="18" height="18" fill="#00ff80"/>
<rect x="382" y="682" width="18" height="18" fill="#00ffbf"/>
<rect x="400" y="682" width="18" height="18" fill="#00ff00"/>
<rect x="418" y="682" width="37" height="18" fill="#20ff00"/>
<rect x="455" y="682" width="18" height="18" fill="#60ff00"/>
<rect x="473" y="682" width="18" height="18" fill="#9fff00"/>
<rect x="491" y="682" width="18" height="18" fill="#bfff00"/>
<rect x="509" y="682" width="19" height="18" fill="#ffff00"/>
<rect x="528" y="682" width="72" height="18" fill="#ffc800"/>
<rect x="600" y="682" width="37" height="18" fill="#ff9000"/>
<rect x="637" y="682" width="36" height="18" fill="#ff7400"/>
<rect x="673" y="682" width="18" height="18" fill="#ff9000"/>
<rect x="691" y="682" width="18" height="18" fill="#ffac00"/>
<rect x="709" y="682" width="19" height="18" fill="#ffc800"/>
<rect x="728" y="682" width="36" height="18" fill="#ffe300"/>
<rect x="764" y="682" width="36" height="18" fill="#ffff00"/>
<rect x="0" y="700" width="18" height="18" fill="#009fff"/>
<rect x="18" y="700" width="55" height="18" fill="#0080ff"/>
<rect x="73" y="700" width="36" height="18" fill="#0070ff"/>
<rect x="109" y="700" width="19" height="18" fill="#0080ff"/>
<rect x="128" y="700" width="18" height="18" fill="#0070ff"/>
<rect x="146" y="700" width="18" height="18" fill="#008fff"/>
<rect x="164" y="700" width="18" height="18" fill="#00bfff"/>
<rect x="182" y="700" width="73" height="18" fill="#00ffff"/>
<rect x="255" y="700" width="18" height="18" fill="#00ffbf"/>
<rect x="273" y="700" width="18" height="18" fill="#00ff80"/>
<rect x="291" y="700" width="18" height="18" fill="#00ff40"/>
<rect x="309" y="700" width="19" height="18" fill="#9fff00"/>
<rect x="328" y="700" width="18" height="18" fill="#bfff00"/>
<rect x="346" y="700" width="18" height="18" fill="#80ff00"/>
<rect x="364" y="700" width="18" height="18" fill="#60ff00"/>
<rect x="382" y="700" width="18" height="18" fill="#20ff00"/>
<rect x="400" y="700" width="37" height="18" fill="#80ff00"/>
<rect x="437" y="700" width="18" height="18" fill="#9fff00"/>
<rect x="455" y="700" width="36" height="18" fill="#dfff00"/>
<rect x="491" y="700" width="18" height="18" fill="#ffe300"/>
<rect x="509" y="700" width="19" height="18" fill="#ffc800"/>
<rect x="528" y="700" width="36" height="18" fill="#ffac00"/>
<rect x="564" y="700" width="36" height="18" fill="#ff9000"/>
<rect x="600" y="700" width="37" height="18" fill="#ff7400"/>
<rect x="637" y="700" width="36" height="18" fill="#ff5900"/>
<rect x="673" y="700" width="18" height="18" fill="#ff7400"/>
<rect x="691" y="700" width="18" height="18" fill="#ffac00"/>
<rect x="709" y="700" width="19" height="18" fill="#ffc800"/>
<rect x="728" y="700" width="36" height="18" fill="#ffe300"/>
<rect x="764" y="700" width="36" height="18" fill="#ffff00"/>
<rect x="0" y="718" width="18" height="18" fill="#008fff"/>
<rect x="18" y="718" width="91" height="18" fill="#0080ff"/>
<rect x="109" y="718" width="37" height="18" fill="#0070ff"/>
<rect x="146" y="718" width="18" height="18" fill="#008fff"/>
<rect x="164" y="718" width="18" height="18" fill="#00afff"/>
<rect x="182" y="718" width="18" height="18" fill="#00efff"/>
<rect x="200" y="718" width="55" height="18" fill="#00ffff"/>
<rect x="255" y="718" width="18" height="18" fill="#00ffbf"/>
<rect x="273" y="718" width="18" height="18" fill="#00ff80"/>
<rect x="291" y="718" width="18" height="18" fill="#00ff00"/>
<rect x="309" y="718" width="19" height="18" fill="#60ff00"/>
<rect x="328" y="718" width="18" height="18" fill="#9fff00"/>
<rect x="346" y="718" width="18" height="18" fill="#bfff00"/>
<rect x="364" y="718" width="18" height="18" fill="#dfff00"/>
<rect x="382" y="718" width="36" height="18" fill="#9fff00"/>
<rect x="418" y="718" width="37" height="18" fill="#bfff00"/>
<rect x="455" y="718" width="18" height="18" fill="#dfff00"/>
<rect x="473" y="718" width="18" height="18" fill="#ffff00"/>
<rect x="491" y="718" width="18" height="18" fill="#ffe300"/>
<rect x="509" y="718" width="19" height="18" fill="#ffc800"/>
<rect x="528" y="718" width="36" height="18" fill="#ffac00"/>
<rect x="564" y="718" width="18" height="18" fill="#ff9000"/>
<rect x="582" y="718" width="55" height="18" fill="#ff7400"/>
<rect x="637" y="718" width="36" height="18" fill="#ff5900"/>
<rect x="673" y="718" width="18" height="18" fill="#ff7400"/>
<rect x="691" y="718" width="18" height="18" fill="#ffac00"/>
<rect x="709" y="718" width="19" height="18" fill="#ffe300"/>
<rect x="728" y="718" width="18" height="18" fill="#ffff00"/>
<rect x="746" y="718" width="36" height="18" fill="#ffe300"/>
<rect x="782" y="718" width="18" height="18" fill="#ffff00"/>
<rect x="0" y="736" width="18" height="18" fill="#00cfff"/>
<rect x="18" y="736" width="55" height="18" fill="#00dfff"/>
<rect x="73" y="736" width="36" height="18" fill="#008fff"/>
<rect x="109" y="736" width="37" height="18" fill="#0080ff"/>
<rect x="146" y="736" width="18" height="18" fill="#009fff"/>
<rect x="164" y="736" width="18" height="18" fill="#00dfff"/>
<rect x="182" y="736" width="18" height="18" fill="#00ffff"/>
<rect x="200" y="736" width="37" height="18" fill="#00ffdf"/>
<rect x="237" y="736" width="36" height="18" fill="#00ffff"/>
<rect x="273" y="736" width="18" height="18" fill="#00ffbf"/>
<rect x="291" y="736" width="18" height="18" fill="#00ff40"/>
<rect x="309" y="736" width="19" height="18" fill="#00ff00"/>
<rect x="328" y="736" width="18" height="18" fill="#80ff00"/>
<rect x="346" y="736" width="18" height="18" fill="#dfff00"/>
<rect x="364" y="736" width="18" height="18" fill="#fff100"/>
<rect x="382" y="736" width="18" height="18" fill="#ffe300"/>
<rect x="400" y="736" width="73" height="18" fill="#dfff00"/>
<rect x="473" y="736" width="18" height="18" fill="#ffff00"/>
<rect x="491" y="736" width="18" height="18" fill="#ffe300"/>
<rect x="509" y="736" width="19" height="18" fill="#ffc800"/>
<rect x="528" y="736" width="18" height="18" fill="#ffac00"/>
<rect x="546" y="736" width="36" height="18" fill="#ff9000"/>
<rect x="582" y="736" width="91" height="18" fill="#ff7400"/>
<rect x="673" y="736" width="18" height="18" fill="#ffac00"/>
<rect x="691" y="736" width="18" height="18" fill="#ffc800"/>
<rect x="709" y="736" width="19" height="18" fill="#ffe300"/>
<rect x="728" y="736" width="72" height="18" fill="#ffff00"/>
<rect x="0" y="754" width="18" height="18" fill="#009fff"/>
<rect x="18" y="754" width="73" height="18" fill="#00afff"/>
<rect x="91" y="754" width="55" height="18" fill="#009fff"/>
<rect x="146" y="754" width="18" height="18" fill="#00afff"/>
<rect x="164" y="754" width="18" height="18" fill="#00dfff"/>
<rect x="182" y="754" width="18" height="18" fill="#00ffdf"/>
<rect x="200" y="754" width="18" height="18" fill="#00ffbf"/>
<rect x="218" y="754" width="19" height="18" fill="#00ffdf"/>
<rect x="237" y="754" width="18" height="18" fill="#00ffff"/>
<rect x="255" y="754" width="36" height="18" fill="#00ffbf"/>
<rect x="291" y="754" width="18" height="18" fill="#00ff60"/>
<rect x="309" y="754" width="19" height="18" fill="#20ff00"/>
<rect x="328" y="754" width="18" height="18" fill="#80ff00"/>
<rect x="346" y="754" width="18" height="18" fill="#bfff00"/>
<rect x="364" y="754" width="18" height="18" fill="#ffff00"/>
<rect x="382" y="754" width="55" height="18" fill="#fff100"/>
<rect x="437" y="754" width="36" height="18" fill="#dfff00"/>
<rect x="473" y="754" width="18" height="18" fill="#ffff00"/>
<rect x="491" y="754" width="18" height="18" fill="#ffe300"/>
<rect x="509" y="754" width="19" height="18" fill="#ffc800"/>
<rect x="528" y="754" width="18" height="18" fill="#ffac00"/>
<rect x="546" y="754" width="36" height="18" fill="#ff9000"/>
<rect x="582" y="754" width="55" height="18" fill="#ff7400"/>
<rect x="637" y="754" width="36" height="18" fill="#ff9000"/>
<rect x="673" y="754" width="18" height="18" fill="#ffac00"/>
<rect x="691" y="754" width="18" height="18" fill="#ffc800"/>
<rect x="709" y="754" width="19" height="18" fill="#ffe300"/>
<rect x="728" y="754" width="36" height="18" fill="#ffff00"/>
<rect x="764" y="754" width="36" height="18" fill="#dfff00"/>
</g>
<path fill="none" stroke="#fff" stroke-width="1" shape-rendering="crispEdges" d="M718.4 36.2L721.6 33.6M719.7 33.6L721.6 33.6L720.7 35.3M772.9 36.2L777.5 32.4M774.8 32.4L777.5 32.4L776.3 34.8M791.1 36.2L795.7 32.4M793.0 32.4L795.7 32.4L794.4 34.8M700.2 54.4L703.8 54.4M702.4 53.6L703.8 54.4L702.4 55.3M718.4 54.4L722.0 54.4M720.6 53.6L722.0 54.4L720.6 55.3M754.8 54.4L759.3 52.8M757.2 52.2L759.3 52.8L757.7 54.4M772.9 54.4L779.2 52.2M776.2 51.3L779.2 52.2L777.0 54.3M791.1 54.4L797.3 52.2M794.4 51.3L797.3 52.2L795.2 54.3M682.0 72.6L686.2 72.6M684.6 71.6L686.2 72.6L684.6 73.6M700.2 72.6L704.4 72.6M702.8 71.6L704.4 72.6L702.8 73.6M718.4 72.6L723.2 72.6M721.3 71.5L723.2 72.6L721.3 73.7M736.6 72.6L742.0 72.6M739.9 71.3L742.0 72.6L739.9 73.9M754.8 72.6L760.8 72.6M758.4 71.2L760.8 72.6L758.4 74.0M772.9 72.6L779.5 72.6M776.9 71.0L779.5 72.6L776.9 74.2M791.1 72.6L797.7 72.6M795.1 71.0L797.7 72.6L795.1 74.2M663.9 90.8L669.9 90.8M667.5 89.4L669.9 90.8L667.5 92.2M682.0 90.8L687.7 92.8M685.8 90.9L687.7 92.8L685.0 93.6M700.2 90.8L705.9 92.8M703.9 90.9L705.9 92.8L703.2 93.6M718.4 90.8L724.6 93.0M722.5 90.9L724.6 93.0L721.7 93.9M736.6 90.8L742.8 93.0M740.7 90.9L742.8 93.0L739.9 93.9M754.8 90.8L761.0 93.0M758.9 90.9L761.0 93.0L758.1 93.9M772.9 90.8L780.1 90.8M777.3 89.1L780.1 90.8L777.3 92.5M791.1 90.8L798.9 90.8M795.9 88.9L798.9 90.8L795.9 92.6M682.0 109.0L689.8 109.0M686.8 107.1L689.8 109.0L686.8 110.8M700.2 109.0L707.4 109.0M704.6 107.3L707.4 109.0L704.6 110.7M718.4 109.0L725.0 109.0M722.4 107.4L725.0 109.0L722.4 110.5M736.6 109.0L743.8 109.0M741.0 107.3L743.8 109.0L741.0 110.7M754.8 109.0L762.6 109.0M759.5 107.1L762.6 109.0L759.5 110.8M772.9 109.0L780.7 109.0M777.7 107.1L780.7 109.0L777.7 110.8M791.1 109.0L798.9 109.0M795.9 107.1L798.9 109.0L795.9 110.8M663.9 127.1L674.1 127.1M670.0 124.7L674.1 127.1L670.0 129.6M682.0 127.1L692.2 127.1M688.2 124.7L692.2 127.1L688.2 129.6M700.2 127.1L709.3 130.4M706.2 127.3L709.3 130.4L705.0 131.7M718.4 127.1L726.3 130.0M723.6 127.3L726.3 130.0L722.6 131.1M736.6 127.1L743.9 129.8M741.4 127.3L743.9 129.8L740.5 130.8M754.8 127.1L763.2 127.1M759.9 125.2L763.2 127.1L759.9 129.1M772.9 127.1L781.3 127.1M778.0 125.2L781.3 127.1L778.0 129.1M791.1 127.1L799.5 127.1M796.2 125.2L799.5 127.1L796.2 129.1M645.7 145.3L652.6 139.5M648.4 139.6L652.6 139.5L650.6 143.2M663.9 145.3L673.5 141.8M669.0 140.5L673.5 141.8L670.2 145.2M682.0 145.3L691.6 141.8M687.1 140.5L691.6 141.8L688.4 145.2M700.2 145.3L711.0 145.3M706.8 142.8L711.0 145.3L706.8 147.9M718.4 145.3L727.4 148.6M724.3 145.5L727.4 148.6L723.2 149.9M736.6 145.3L745.6 148.6M742.5 145.5L745.6 148.6L741.4 149.9M754.8 145.3L764.4 145.3M760.6 143.1L764.4 145.3L760.6 147.6M772.9 145.3L783.1 145.3M779.1 142.9L783.1 145.3L779.1 147.7M791.1 145.3L800.7 145.3M796.9 143.1L800.7 145.3L796.9 147.6M645.7 163.5L651.3 151.5M645.8 154.2L651.3 151.5L651.1 157.6M663.9 163.5L670.0 150.5M664.0 153.4L670.0 150.5L669.7 157.1M682.0 163.5L693.1 154.3M686.5 154.3L693.1 154.3L690.0 160.1M700.2 163.5L711.3 154.3M704.6 154.3L711.3 154.3L708.2 160.1M718.4 163.5L729.7 159.4M724.4 157.9L729.7 159.4L725.8 163.4M736.6 163.5L747.3 167.4M743.6 163.7L747.3 167.4L742.3 168.9M754.8 163.5L765.5 167.4M761.8 163.7L765.5 167.4L760.4 168.9M772.9 163.5L783.7 167.4M780.0 163.7L783.7 167.4L778.6 168.9M791.1 163.5L801.3 167.2M797.8 163.6L801.3 167.2L796.5 168.6M627.5 181.7L639.5 171.7M632.3 171.7L639.5 171.7L636.1 178.0M645.7 181.7L657.2 172.0M650.3 172.1L657.2 172.0L654.0 178.1M663.9 181.7L674.9 172.4M668.3 172.4L674.9 172.4L671.8 178.3M682.0 181.7L693.1 172.4M686.5 172.4L693.1 172.4L690.0 178.3M700.2 181.7L711.3 172.4M704.6 172.4L711.3 172.4L708.2 178.3M718.4 181.7L731.9 176.8M725.6 174.9L731.9 176.8L727.3 181.5M736.6 181.7L749.2 181.7M744.2 178.7L749.2 181.7L744.2 184.7M754.8 181.7L766.0 185.8M762.2 181.8L766.0 185.8L760.7 187.3M772.9 181.7L784.2 185.8M780.4 181.8L784.2 185.8L778.9 187.3M791.1 181.7L801.8 185.6M798.2 181.8L801.8 185.6L796.8 187.1M609.3 199.9L620.4 190.6M613.7 190.6L620.4 190.6L617.3 196.5M627.5 199.9L639.9 189.5M632.5 189.5L639.9 189.5L636.4 196.0M645.7 199.9L657.6 189.8M650.5 189.9L657.6 189.8L654.3 196.2M663.9 199.9L675.4 190.2M668.5 190.2L675.4 190.2L672.1 196.3M682.0 199.9L693.1 190.6M686.5 190.6L693.1 190.6L690.0 196.5M700.2 199.9L711.3 190.6M704.6 190.6L711.3 190.6L708.2 196.5M718.4 199.9L729.4 190.6M722.8 190.6L729.4 190.6L726.3 196.5M736.6 199.9L749.0 195.4M743.2 193.6L749.0 195.4L744.8 199.7M754.8 199.9L766.6 195.6M761.0 193.9L766.6 195.6L762.6 199.7M772.9 199.9L784.9 199.9M780.2 197.0L784.9 199.9L780.2 202.7M791.1 199.9L802.4 204.0M798.6 200.0L802.4 204.0L797.1 205.5M591.1 218.0L602.2 208.8M595.6 208.8L602.2 208.8L599.1 214.6M609.3 218.0L621.7 207.6M614.3 207.7L621.7 207.6L618.3 214.2M627.5 218.0L640.4 207.3M632.7 207.3L640.4 207.3L636.8 214.1M645.7 218.0L658.1 207.6M650.6 207.7L658.1 207.6L654.6 214.2M663.9 218.0L675.8 208.0M668.6 208.0L675.8 208.0L672.5 214.4M682.0 218.0L693.5 208.4M686.6 208.4L693.5 208.4L690.3 214.5M700.2 218.0L711.3 208.8M704.6 208.8L711.3 208.8L708.2 214.6M718.4 218.0L729.4 208.8M722.8 208.8L729.4 208.8L726.3 214.6M736.6 218.0L747.6 208.8M741.0 208.8L747.6 208.8L744.5 214.6M754.8 218.0L767.2 213.5M761.3 211.8L767.2 213.5L762.9 217.9M772.9 218.0L784.8 213.7M779.2 212.1L784.8 213.7L780.7 217.9M791.1 218.0L803.1 218.0M798.4 215.2L803.1 218.0L798.4 220.9M573.0 236.2L582.2 228.5M576.6 228.5L582.2 228.5L579.6 233.4M591.1 236.2L602.2 227.0M595.6 227.0L602.2 227.0L599.1 232.8M609.3 236.2L622.2 225.4M614.5 225.4L622.2 225.4L618.6 232.3M627.5 236.2L640.8 225.0M632.8 225.1L640.8 225.0L637.1 232.1M645.7 236.2L659.0 225.0M651.0 225.1L659.0 225.0L655.3 232.1M663.9 236.2L676.7 225.4M669.0 225.4L676.7 225.4L673.1 232.3M682.0 236.2L694.5 225.8M687.0 225.8L694.5 225.8L691.0 232.4M700.2 236.2L712.2 226.2M705.0 226.2L712.2 226.2L708.8 232.5M718.4 236.2L729.9 226.6M723.0 226.6L729.9 226.6L726.7 232.7M736.6 236.2L748.1 226.6M741.2 226.6L748.1 226.6L744.9 232.7M754.8 236.2L765.8 227.0M759.2 227.0L765.8 227.0L762.7 232.8M772.9 236.2L786.5 231.3M780.1 229.4L786.5 231.3L781.9 236.0M791.1 236.2L802.4 232.1M797.1 230.6L802.4 232.1L798.6 236.1M554.8 254.4L564.0 246.7M558.5 246.7L564.0 246.7L561.4 251.6M573.0 254.4L584.0 245.2M577.4 245.2L584.0 245.2L580.9 251.0M591.1 254.4L602.2 245.2M595.6 245.2L602.2 245.2L599.1 251.0M609.3 254.4L622.2 243.6M614.5 243.6L622.2 243.6L618.6 250.4M627.5 254.4L640.8 243.2M632.8 243.2L640.8 243.2L637.1 250.3M645.7 254.4L659.0 243.2M651.0 243.2L659.0 243.2L655.3 250.3M663.9 254.4L676.7 243.6M669.0 243.6L676.7 243.6L673.1 250.4M682.0 254.4L694.5 244.0M687.0 244.0L694.5 244.0L691.0 250.6M700.2 254.4L712.6 244.0M705.2 244.0L712.6 244.0L709.2 250.6M718.4 254.4L729.9 244.8M723.0 244.8L729.9 244.8L726.7 250.9M736.6 254.4L747.6 245.2M741.0 245.2L747.6 245.2L744.5 251.0M754.8 254.4L765.8 245.2M759.2 245.2L765.8 245.2L762.7 251.0M772.9 254.4L786.5 249.5M780.1 247.6L786.5 249.5L781.9 254.2M791.1 254.4L801.3 250.7M796.5 249.3L801.3 250.7L797.8 254.3M209.4 272.6L214.9 268.0M211.6 268.0L214.9 268.0L213.3 270.9M554.8 272.6L565.8 263.3M559.2 263.3L565.8 263.3L562.7 269.2M573.0 272.6L584.0 263.3M577.4 263.3L584.0 263.3L580.9 269.2M591.1 272.6L603.1 262.6M595.9 262.6L603.1 262.6L599.7 268.9M609.3 272.6L622.2 261.8M614.5 261.8L622.2 261.8L618.6 268.6M627.5 272.6L640.8 261.4M632.8 261.4L640.8 261.4L637.1 268.5M645.7 272.6L659.0 261.4M651.0 261.4L659.0 261.4L655.3 268.5M663.9 272.6L676.7 261.8M669.0 261.8L676.7 261.8L673.1 268.6M682.0 272.6L694.9 261.8M687.2 261.8L694.9 261.8L691.3 268.6M700.2 272.6L712.6 262.2M705.2 262.2L712.6 262.2L709.2 268.8M718.4 272.6L729.9 262.9M723.0 263.0L729.9 262.9L726.7 269.0M736.6 272.6L747.6 263.3M741.0 263.3L747.6 263.3L744.5 269.2M754.8 272.6L765.8 263.3M759.2 263.3L765.8 263.3L762.7 269.2M772.9 272.6L786.5 267.7M780.1 265.8L786.5 267.7L781.9 272.4M791.1 272.6L801.3 268.9M796.5 267.5L801.3 268.9L797.8 272.5M209.4 290.8L215.8 285.4M211.9 285.4L215.8 285.4L214.0 288.8M227.6 290.8L233.1 286.1M229.8 286.1L233.1 286.1L231.5 289.1M245.7 290.8L252.2 285.4M248.3 285.4L252.2 285.4L250.4 288.8M263.9 290.8L270.3 285.4M266.5 285.4L270.3 285.4L268.5 288.8M282.1 290.8L288.5 285.4M284.7 285.4L288.5 285.4L286.7 288.8M536.6 290.8L547.6 281.5M541.0 281.5L547.6 281.5L544.5 287.4M554.8 290.8L565.8 281.5M559.2 281.5L565.8 281.5L562.7 287.4M573.0 290.8L584.9 280.7M577.7 280.8L584.9 280.7L581.6 287.1M591.1 290.8L603.1 280.7M595.9 280.8L603.1 280.7L599.7 287.1M609.3 290.8L622.2 280.0M614.5 280.0L622.2 280.0L618.6 286.8M627.5 290.8L640.8 279.6M632.8 279.6L640.8 279.6L637.1 286.7M645.7 290.8L659.0 279.6M651.0 279.6L659.0 279.6L655.3 286.7M663.9 290.8L677.2 279.6M669.2 279.6L677.2 279.6L673.5 286.7M682.0 290.8L695.4 279.6M687.4 279.6L695.4 279.6L691.6 286.7M700.2 290.8L712.6 280.4M705.2 280.4L712.6 280.4L709.2 286.9M718.4 290.8L729.9 281.1M723.0 281.1L729.9 281.1L726.7 287.2M736.6 290.8L747.6 281.5M741.0 281.5L747.6 281.5L744.5 287.4M754.8 290.8L765.8 281.5M759.2 281.5L765.8 281.5L762.7 287.4M772.9 290.8L785.4 286.3M779.5 284.5L785.4 286.3L781.1 290.6M791.1 290.8L801.3 287.1M796.5 285.7L801.3 287.1L797.8 290.6M227.6 309.0L233.1 304.3M229.8 304.3L233.1 304.3L231.5 307.2M245.7 309.0L254.0 302.0M249.0 302.0L254.0 302.0L251.7 306.4M263.9 309.0L272.2 302.0M267.2 302.0L272.2 302.0L269.9 306.4M282.1 309.0L290.4 302.0M285.4 302.0L290.4 302.0L288.0 306.4M300.3 309.0L307.6 302.8M303.2 302.8L307.6 302.8L305.6 306.7M318.4 309.0L324.9 303.6M321.0 303.6L324.9 303.6L323.1 307.0M500.2 309.0L511.3 299.7M504.7 299.7L511.3 299.7L508.2 305.5M518.4 309.0L530.4 298.9M523.2 298.9L530.4 298.9L527.0 305.3M536.6 309.0L548.6 298.9M541.4 298.9L548.6 298.9L545.2 305.3M554.8 309.0L566.7 298.9M559.6 298.9L566.7 298.9L563.4 305.3M573.0 309.0L584.9 298.9M577.7 298.9L584.9 298.9L581.6 305.3M591.1 309.0L603.1 298.9M595.9 298.9L603.1 298.9L599.7 305.3M609.3 309.0L622.2 298.2M614.5 298.2L622.2 298.2L618.6 305.0M627.5 309.0L640.8 297.8M632.8 297.8L640.8 297.8L637.1 304.8M645.7 309.0L659.0 297.8M651.0 297.8L659.0 297.8L655.3 304.8M663.9 309.0L676.7 298.2M669.0 298.2L676.7 298.2L673.1 305.0M682.0 309.0L694.9 298.2M687.2 298.2L694.9 298.2L691.3 305.0M700.2 309.0L712.6 298.5M705.2 298.6L712.6 298.5L709.2 305.1M718.4 309.0L729.9 299.3M723.0 299.3L729.9 299.3L726.7 305.4M736.6 309.0L747.6 299.7M741.0 299.7L747.6 299.7L744.5 305.5M754.8 309.0L764.0 301.2M758.4 301.2L764.0 301.2L761.4 306.1M772.9 309.0L784.2 304.8M778.9 303.3L784.2 304.8L780.4 308.8M791.1 309.0L801.3 305.3M796.5 303.9L801.3 305.3L797.8 308.8M263.9 327.1L271.3 321.0M266.8 321.0L271.3 321.0L269.2 324.9M282.1 327.1L290.4 320.2M285.4 320.2L290.4 320.2L288.0 324.6M300.3 327.1L307.6 321.0M303.2 321.0L307.6 321.0L305.6 324.9M318.4 327.1L324.9 321.7M321.0 321.7L324.9 321.7L323.1 325.1M336.6 327.1L340.8 323.7M338.3 323.7L340.8 323.7L339.6 325.9M354.8 327.1L359.9 322.9M356.8 322.9L359.9 322.9L358.4 325.6M373.0 327.1L380.3 321.0M375.9 321.0L380.3 321.0L378.3 324.9M391.2 327.1L399.4 320.2M394.5 320.2L399.4 320.2L397.1 324.6M409.4 327.1L418.1 319.8M412.8 319.8L418.1 319.8L415.6 324.4M427.5 327.1L436.3 319.8M431.0 319.8L436.3 319.8L433.8 324.4M445.7 327.1L454.9 319.4M449.4 319.4L454.9 319.4L452.3 324.3M463.9 327.1L474.9 317.9M468.3 317.9L474.9 317.9L471.8 323.7M482.1 327.1L493.1 317.9M486.5 317.9L493.1 317.9L490.0 323.7M500.2 327.1L511.3 317.9M504.7 317.9L511.3 317.9L508.2 323.7M518.4 327.1L529.5 317.9M522.8 317.9L529.5 317.9L526.4 323.7M536.6 327.1L547.6 317.9M541.0 317.9L547.6 317.9L544.5 323.7M554.8 327.1L566.7 317.1M559.6 317.1L566.7 317.1L563.4 323.4M573.0 327.1L584.9 317.1M577.7 317.1L584.9 317.1L581.6 323.4M591.1 327.1L603.1 317.1M595.9 317.1L603.1 317.1L599.7 323.4M609.3 327.1L622.7 315.9M614.7 316.0L622.7 315.9L618.9 323.0M627.5 327.1L640.8 315.9M632.8 316.0L640.8 315.9L637.1 323.0M645.7 327.1L659.0 315.9M651.0 316.0L659.0 315.9L655.3 323.0M663.9 327.1L676.7 316.3M669.0 316.3L676.7 316.3L673.1 323.2M682.0 327.1L694.9 316.3M687.2 316.3L694.9 316.3L691.3 323.2M700.2 327.1L712.2 317.1M705.0 317.1L712.2 317.1L708.8 323.4M718.4 327.1L732.5 322.0M725.9 320.1L732.5 322.0L727.7 326.9M736.6 327.1L749.0 322.6M743.2 320.9L749.0 322.6L744.8 327.0M754.8 327.1L766.0 323.0M760.7 321.5L766.0 323.0L762.2 327.0M772.9 327.1L785.4 322.6M779.5 320.9L785.4 322.6L781.1 327.0M791.1 327.1L801.9 327.1M797.7 324.6L801.9 327.1L797.7 329.7M300.3 345.3L306.7 339.9M302.8 339.9L306.7 339.9L304.9 343.3M318.4 345.3L324.0 340.7M320.7 340.7L324.0 340.7L322.4 343.6M336.6 345.3L341.7 341.1M338.6 341.1L341.7 341.1L340.3 343.8M354.8 345.3L359.9 341.1M356.8 341.1L359.9 341.1L358.4 343.8M373.0 345.3L379.9 339.5M375.7 339.5L379.9 339.5L377.9 343.2M391.2 345.3L399.4 338.4M394.5 338.4L399.4 338.4L397.1 342.8M409.4 345.3L418.5 337.6M413.0 337.6L418.5 337.6L416.0 342.5M427.5 345.3L437.6 336.8M431.6 336.8L437.6 336.8L434.8 342.2M445.7 345.3L455.8 336.8M449.7 336.8L455.8 336.8L453.0 342.2M463.9 345.3L474.9 336.1M468.3 336.1L474.9 336.1L471.8 341.9M482.1 345.3L493.1 336.1M486.5 336.1L493.1 336.1L490.0 341.9M500.2 345.3L511.3 336.1M504.7 336.1L511.3 336.1L508.2 341.9M518.4 345.3L529.5 336.1M522.8 336.1L529.5 336.1L526.4 341.9M536.6 345.3L547.6 336.1M541.0 336.1L547.6 336.1L544.5 341.9M554.8 345.3L566.7 335.3M559.6 335.3L566.7 335.3L563.4 341.6M573.0 345.3L584.9 335.3M577.7 335.3L584.9 335.3L581.6 341.6M591.1 345.3L603.1 335.3M595.9 335.3L603.1 335.3L599.7 341.6M609.3 345.3L622.2 334.5M614.5 334.5L622.2 334.5L618.6 341.3M627.5 345.3L640.8 334.1M632.8 334.1L640.8 334.1L637.1 341.2M645.7 345.3L659.0 334.1M651.0 334.1L659.0 334.1L655.3 341.2M663.9 345.3L676.7 334.5M669.0 334.5L676.7 334.5L673.1 341.3M682.0 345.3L694.9 334.5M687.2 334.5L694.9 334.5L691.3 341.3M700.2 345.3L712.6 334.9M705.2 334.9L712.6 334.9L709.2 341.5M718.4 345.3L731.9 340.4M725.6 338.5L731.9 340.4L727.3 345.1M736.6 345.3L750.1 340.4M743.8 338.5L750.1 340.4L745.5 345.1M754.8 345.3L768.3 340.4M761.9 338.5L768.3 340.4L763.7 345.1M772.9 345.3L783.1 341.6M778.3 340.2L783.1 341.6L779.6 345.2M791.1 345.3L793.7 347.9M793.0 346.3L793.7 347.9L792.0 347.7M300.3 363.5L306.7 358.1M302.8 358.1L306.7 358.1L304.9 361.5M318.4 363.5L324.0 358.9M320.7 358.9L324.0 358.9L322.4 361.8M336.6 363.5L342.1 358.9M338.8 358.9L342.1 358.9L340.6 361.8M354.8 363.5L360.8 358.5M357.2 358.5L360.8 358.5L359.1 361.6M373.0 363.5L380.3 357.3M375.9 357.3L380.3 357.3L378.3 361.2M391.2 363.5L399.4 356.5M394.5 356.6L399.4 356.5L397.1 360.9M409.4 363.5L418.5 355.8M413.0 355.8L418.5 355.8L416.0 360.7M427.5 363.5L437.6 355.0M431.6 355.0L437.6 355.0L434.8 360.4M445.7 363.5L455.8 355.0M449.7 355.0L455.8 355.0L453.0 360.4M463.9 363.5L474.9 354.2M468.3 354.2L474.9 354.2L471.8 360.1M482.1 363.5L493.1 354.2M486.5 354.2L493.1 354.2L490.0 360.1M500.2 363.5L511.3 354.2M504.7 354.2L511.3 354.2L508.2 360.1M518.4 363.5L529.5 354.2M522.8 354.2L529.5 354.2L526.4 360.1M536.6 363.5L547.6 354.2M541.0 354.2L547.6 354.2L544.5 360.1M554.8 363.5L566.7 353.5M559.6 353.5L566.7 353.5L563.4 359.8M573.0 363.5L584.9 353.5M577.7 353.5L584.9 353.5L581.6 359.8M591.1 363.5L604.0 352.7M596.3 352.7L604.0 352.7L600.4 359.5M609.3 363.5L622.2 352.7M614.5 352.7L622.2 352.7L618.6 359.5M627.5 363.5L640.8 352.3M632.8 352.3L640.8 352.3L637.1 359.4M645.7 363.5L658.6 352.7M650.8 352.7L658.6 352.7L654.9 359.5M663.9 363.5L676.7 352.7M669.0 352.7L676.7 352.7L673.1 359.5M682.0 363.5L694.9 352.7M687.2 352.7L694.9 352.7L691.3 359.5M700.2 363.5L712.6 353.1M705.2 353.1L712.6 353.1L709.2 359.7M718.4 363.5L732.5 358.4M725.9 356.4L732.5 358.4L727.7 363.3M736.6 363.5L750.1 358.6M743.8 356.7L750.1 358.6L745.5 363.3M754.8 363.5L765.6 363.5M761.3 360.9L765.6 363.5L761.3 366.0M772.9 363.5L775.5 366.0M774.8 364.5L775.5 366.0L773.8 365.9M791.1 363.5L789.9 366.9M791.3 366.0L789.9 366.9L789.8 365.2M282.1 381.7L288.5 376.3M284.7 376.3L288.5 376.3L286.7 379.7M300.3 381.7L307.2 375.9M303.0 375.9L307.2 375.9L305.2 379.5M318.4 381.7L325.3 375.9M321.2 375.9L325.3 375.9L323.4 379.5M336.6 381.7L344.4 375.1M339.8 375.1L344.4 375.1L342.3 379.3M354.8 381.7L362.6 375.1M357.9 375.1L362.6 375.1L360.4 379.3M373.0 381.7L381.3 374.7M376.3 374.7L381.3 374.7L378.9 379.1M391.2 381.7L399.9 374.3M394.7 374.4L399.9 374.3L397.5 379.0M409.4 381.7L418.5 374.0M413.0 374.0L418.5 374.0L416.0 378.8M427.5 381.7L437.2 373.6M431.4 373.6L437.2 373.6L434.5 378.7M445.7 381.7L455.8 373.2M449.7 373.2L455.8 373.2L453.0 378.6M463.9 381.7L474.0 373.2M467.9 373.2L474.0 373.2L471.2 378.6M482.1 381.7L492.2 373.2M486.1 373.2L492.2 373.2L489.3 378.6M500.2 381.7L510.4 373.2M504.3 373.2L510.4 373.2L507.5 378.6M518.4 381.7L529.5 372.4M522.8 372.4L529.5 372.4L526.4 378.3M536.6 381.7L547.6 372.4M541.0 372.4L547.6 372.4L544.5 378.3M554.8 381.7L566.7 371.6M559.6 371.7L566.7 371.6L563.4 378.0M573.0 381.7L585.8 370.9M578.1 370.9L585.8 370.9L582.2 377.7M591.1 381.7L604.0 370.9M596.3 370.9L604.0 370.9L600.4 377.7M609.3 381.7L622.2 370.9M614.5 370.9L622.2 370.9L618.6 377.7M627.5 381.7L640.4 370.9M632.7 370.9L640.4 370.9L636.8 377.7M645.7 381.7L658.6 370.9M650.8 370.9L658.6 370.9L654.9 377.7M663.9 381.7L676.7 370.9M669.0 370.9L676.7 370.9L673.1 377.7M682.0 381.7L694.9 370.9M687.2 370.9L694.9 370.9L691.3 377.7M700.2 381.7L712.6 371.3M705.2 371.3L712.6 371.3L709.2 377.8M718.4 381.7L732.5 376.5M725.9 374.6L732.5 376.5L727.7 381.5M736.6 381.7L746.2 381.7M742.4 379.4L746.2 381.7L742.4 383.9M754.8 381.7L757.3 384.2M756.7 382.7L757.3 384.2L755.7 384.1M772.9 381.7L771.3 386.2M773.2 385.0L771.3 386.2L771.1 384.0M791.1 381.7L786.9 385.9M789.6 385.7L786.9 385.9L788.0 383.4M282.1 399.9L288.5 394.5M284.7 394.5L288.5 394.5L286.7 397.9M300.3 399.9L307.6 393.7M303.2 393.7L307.6 393.7L305.6 397.6M318.4 399.9L326.7 392.9M321.8 392.9L326.7 392.9L324.4 397.3M336.6 399.9L345.4 392.5M340.1 392.5L345.4 392.5L342.9 397.2M354.8 399.9L364.0 392.1M358.5 392.1L364.0 392.1L361.4 397.0M373.0 399.9L382.2 392.1M376.7 392.1L382.2 392.1L379.6 397.0M391.2 399.9L400.4 392.1M394.8 392.1L400.4 392.1L397.8 397.0M409.4 399.9L418.5 392.1M413.0 392.1L418.5 392.1L416.0 397.0M427.5 399.9L437.2 391.8M431.4 391.8L437.2 391.8L434.5 396.9M445.7 399.9L455.8 391.4M449.7 391.4L455.8 391.4L453.0 396.7M463.9 399.9L474.0 391.4M467.9 391.4L474.0 391.4L471.2 396.7M482.1 399.9L492.2 391.4M486.1 391.4L492.2 391.4L489.3 396.7M500.2 399.9L509.4 392.1M503.9 392.1L509.4 392.1L506.9 397.0M518.4 399.9L528.5 391.4M522.5 391.4L528.5 391.4L525.7 396.7M536.6 399.9L547.6 390.6M541.0 390.6L547.6 390.6L544.5 396.4M554.8 399.9L566.7 389.8M559.6 389.8L566.7 389.8L563.4 396.2M573.0 399.9L585.8 389.1M578.1 389.1L585.8 389.1L582.2 395.9M591.1 399.9L604.9 388.3M596.7 388.3L604.9 388.3L601.1 395.6M609.3 399.9L622.7 388.7M614.7 388.7L622.7 388.7L618.9 395.7M627.5 399.9L640.8 388.7M632.8 388.7L640.8 388.7L637.1 395.7M645.7 399.9L658.6 389.1M650.8 389.1L658.6 389.1L654.9 395.9M663.9 399.9L676.7 389.1M669.0 389.1L676.7 389.1L673.1 395.9M682.0 399.9L694.9 389.1M687.2 389.1L694.9 389.1L691.3 395.9M700.2 399.9L713.1 389.1M705.4 389.1L713.1 389.1L709.5 395.9M718.4 399.9L727.4 396.6M723.2 395.3L727.4 396.6L724.3 399.7M736.6 399.9L740.2 399.9M738.8 399.0L740.2 399.9L738.8 400.7M754.8 399.9L749.7 404.9M753.0 404.7L749.7 404.9L751.0 401.9M772.9 399.9L767.0 405.8M770.9 405.5L767.0 405.8L768.5 402.2M791.1 399.9L785.2 405.8M789.0 405.5L785.2 405.8L786.7 402.2M300.3 418.0L307.6 411.9M303.2 411.9L307.6 411.9L305.6 415.8M318.4 418.0L326.7 411.1M321.8 411.1L326.7 411.1L324.4 415.5M336.6 418.0L345.8 410.3M340.3 410.3L345.8 410.3L343.2 415.2M354.8 418.0L364.9 409.5M358.8 409.6L364.9 409.5L362.1 414.9M373.0 418.0L382.6 409.9M376.8 409.9L382.6 409.9L379.9 415.1M391.2 418.0L400.8 409.9M395.0 409.9L400.8 409.9L398.1 415.1M409.4 418.0L419.5 409.5M413.4 409.6L419.5 409.5L416.6 414.9M427.5 418.0L437.6 409.5M431.6 409.6L437.6 409.5L434.8 414.9M445.7 418.0L456.7 408.8M450.1 408.8L456.7 408.8L453.6 414.6M463.9 418.0L474.0 409.5M467.9 409.6L474.0 409.5L471.2 414.9M482.1 418.0L491.3 410.3M485.7 410.3L491.3 410.3L488.7 415.2M500.2 418.0L509.4 410.3M503.9 410.3L509.4 410.3L506.9 415.2M518.4 418.0L528.5 409.5M522.5 409.6L528.5 409.5L525.7 414.9M536.6 418.0L547.6 408.8M541.0 408.8L547.6 408.8L544.5 414.6M554.8 418.0L566.7 408.0M559.6 408.0L566.7 408.0L563.4 414.3M573.0 418.0L585.8 407.2M578.1 407.2L585.8 407.2L582.2 414.1M591.1 418.0L604.9 406.5M596.7 406.5L604.9 406.5L601.1 413.8M609.3 418.0L623.1 406.5M614.8 406.5L623.1 406.5L619.2 413.8M627.5 418.0L641.3 406.5M633.0 406.5L641.3 406.5L637.4 413.8M645.7 418.0L658.6 407.2M650.8 407.2L658.6 407.2L654.9 414.1M663.9 418.0L676.7 407.2M669.0 407.2L676.7 407.2L673.1 414.1M682.0 418.0L695.8 406.5M687.6 406.5L695.8 406.5L692.0 413.8M700.2 418.0L710.3 409.5M704.3 409.6L710.3 409.5L707.5 414.9M718.4 418.0L723.2 418.0M721.3 416.9L723.2 418.0L721.3 419.2M736.6 418.0L729.8 424.8M734.2 424.5L729.8 424.8L731.5 420.8M754.8 418.0L748.0 424.8M752.4 424.5L748.0 424.8L749.7 420.8M772.9 418.0L765.3 425.7M770.3 425.3L765.3 425.7L767.3 421.1M791.1 418.0L783.5 425.7M788.4 425.3L783.5 425.7L785.5 421.1M336.6 436.2L346.7 427.7M340.7 427.7L346.7 427.7L343.9 433.1M354.8 436.2L365.8 427.0M359.2 427.0L365.8 427.0L362.7 432.8M373.0 436.2L383.1 427.7M377.0 427.7L383.1 427.7L380.3 433.1M391.2 436.2L401.3 427.7M395.2 427.7L401.3 427.7L398.4 433.1M409.4 436.2L419.5 427.7M413.4 427.7L419.5 427.7L416.6 433.1M427.5 436.2L438.6 427.0M431.9 427.0L438.6 427.0L435.5 432.8M445.7 436.2L456.7 427.0M450.1 427.0L456.7 427.0L453.6 432.8M463.9 436.2L474.9 427.0M468.3 427.0L474.9 427.0L471.8 432.8M482.1 436.2L493.1 427.0M486.5 427.0L493.1 427.0L490.0 432.8M500.2 436.2L511.3 427.0M504.7 427.0L511.3 427.0L508.2 432.8M518.4 436.2L529.5 427.0M522.8 427.0L529.5 427.0L526.4 432.8M536.6 436.2L551.3 430.9M544.4 428.9L551.3 430.9L546.3 436.0M554.8 436.2L569.4 430.9M562.6 428.9L569.4 430.9L564.4 436.0M573.0 436.2L588.8 430.5M581.3 428.3L588.8 430.5L583.4 436.0M591.1 436.2L606.9 430.5M599.5 428.3L606.9 430.5L601.5 436.0M609.3 436.2L625.1 430.5M617.7 428.3L625.1 430.5L619.7 436.0M627.5 436.2L643.3 430.5M635.9 428.3L643.3 430.5L637.9 436.0M645.7 436.2L662.0 430.3M654.4 428.0L662.0 430.3L656.4 436.0M663.9 436.2L679.7 430.5M672.2 428.3L679.7 430.5L674.3 436.0M682.0 436.2L697.3 430.7M690.1 428.6L697.3 430.7L692.1 436.0M700.2 436.2L706.2 442.1M704.6 438.6L706.2 442.1L702.3 441.8M718.4 436.2L718.4 445.8M720.7 442.0L718.4 445.8L716.1 442.0M736.6 436.2L729.0 443.8M733.9 443.4L729.0 443.8L730.9 439.3M754.8 436.2L744.9 443.1M750.4 443.5L744.9 443.1L747.9 438.4M772.9 436.2L763.1 443.1M768.6 443.5L763.1 443.1L766.1 438.4M791.1 436.2L781.3 443.1M786.8 443.5L781.3 443.1L784.2 438.4M336.6 454.4L346.7 445.9M340.7 445.9L346.7 445.9L343.9 451.3M354.8 454.4L365.8 445.1M359.2 445.1L365.8 445.1L362.7 451.0M373.0 454.4L384.0 445.1M377.4 445.1L384.0 445.1L380.9 451.0M391.2 454.4L402.2 445.1M395.6 445.1L402.2 445.1L399.1 451.0M409.4 454.4L420.4 445.1M413.8 445.1L420.4 445.1L417.3 451.0M427.5 454.4L438.6 445.1M431.9 445.1L438.6 445.1L435.5 451.0M445.7 454.4L457.7 444.4M450.5 444.4L457.7 444.4L454.3 450.7M463.9 454.4L475.8 444.4M468.7 444.4L475.8 444.4L472.5 450.7M482.1 454.4L494.0 444.4M486.8 444.4L494.0 444.4L490.7 450.7M500.2 454.4L511.3 445.1M504.7 445.1L511.3 445.1L508.2 451.0M518.4 454.4L533.1 449.1M526.2 447.0L533.1 449.1L528.1 454.2M536.6 454.4L552.4 448.6M545.0 446.5L552.4 448.6L547.0 454.2M554.8 454.4L570.6 448.6M563.2 446.5L570.6 448.6L565.2 454.2M573.0 454.4L588.8 448.6M581.3 446.5L588.8 448.6L583.4 454.2M591.1 454.4L606.9 448.6M599.5 446.5L606.9 448.6L601.5 454.2M609.3 454.4L625.1 448.6M617.7 446.5L625.1 448.6L619.7 454.2M627.5 454.4L642.2 449.1M635.3 447.0L642.2 449.1L637.2 454.2M645.7 454.4L661.5 448.6M654.1 446.5L661.5 448.6L656.1 454.2M663.9 454.4L679.7 448.6M672.2 446.5L679.7 448.6L674.3 454.2M682.0 454.4L695.2 454.4M690.0 451.3L695.2 454.4L690.0 457.5M700.2 454.4L707.0 461.2M705.3 457.1L707.0 461.2L702.6 460.8M718.4 454.4L709.9 462.9M715.4 462.4L709.9 462.9L712.1 457.8M736.6 454.4L728.1 462.9M733.6 462.4L728.1 462.9L730.3 457.8M754.8 454.4L744.0 462.0M750.0 462.4L744.0 462.0L747.2 456.8M772.9 454.4L762.1 462.0M768.2 462.4L762.1 462.0L765.4 456.8M791.1 454.4L781.3 461.3M786.8 461.7L781.3 461.3L784.2 456.6M336.6 472.6L347.7 463.3M341.0 463.3L347.7 463.3L344.6 469.2M354.8 472.6L366.8 462.5M359.6 462.6L366.8 462.5L363.4 468.9M373.0 472.6L384.9 462.5M377.8 462.6L384.9 462.5L381.6 468.9M391.2 472.6L403.1 462.5M395.9 462.6L403.1 462.5L399.8 468.9M409.4 472.6L420.4 463.3M413.8 463.3L420.4 463.3L417.3 469.2M427.5 472.6L438.6 463.3M431.9 463.3L438.6 463.3L435.5 469.2M445.7 472.6L456.7 463.3M450.1 463.3L456.7 463.3L453.6 469.2M463.9 472.6L475.8 462.5M468.7 462.6L475.8 462.5L472.5 468.9M482.1 472.6L494.0 462.5M486.8 462.6L494.0 462.5L490.7 468.9M500.2 472.6L511.3 463.3M504.7 463.3L511.3 463.3L508.2 469.2M518.4 472.6L532.0 467.6M525.6 465.8L532.0 467.6L527.3 472.4M536.6 472.6L551.3 467.2M544.4 465.2L551.3 467.2L546.3 472.4M554.8 472.6L570.6 466.8M563.2 464.7L570.6 466.8L565.2 472.4M573.0 472.6L588.8 466.8M581.3 464.7L588.8 466.8L583.4 472.4M591.1 472.6L606.9 466.8M599.5 464.7L606.9 466.8L601.5 472.4M609.3 472.6L626.1 472.6M619.5 468.6L626.1 472.6L619.5 476.6M627.5 472.6L644.3 472.6M637.7 468.6L644.3 472.6L637.7 476.6M645.7 472.6L663.2 466.2M655.0 463.8L663.2 466.2L657.2 472.3M663.9 472.6L674.1 482.8M671.4 476.7L674.1 482.8L667.5 482.2M682.0 472.6L686.6 482.4M686.4 477.4L686.6 482.4L682.2 480.2M700.2 472.6L695.7 485.0M700.9 481.7L695.7 485.0L695.3 478.9M718.4 472.6L709.1 481.9M715.1 481.4L709.1 481.9L711.5 476.3M736.6 472.6L726.4 482.8M733.0 482.2L726.4 482.8L729.0 476.7M754.8 472.6L743.0 480.8M749.6 481.3L743.0 480.8L746.5 475.2M772.9 472.6L762.1 480.1M768.2 480.6L762.1 480.1L765.4 475.0M791.1 472.6L780.3 480.1M786.4 480.6L780.3 480.1L783.6 475.0M318.4 490.8L329.5 481.5M322.9 481.5L329.5 481.5L326.4 487.3M336.6 490.8L349.5 480.0M341.8 480.0L349.5 480.0L345.9 486.8M354.8 490.8L367.7 480.0M360.0 480.0L367.7 480.0L364.1 486.8M373.0 490.8L385.9 480.0M378.1 480.0L385.9 480.0L382.2 486.8M391.2 490.8L403.1 480.7M395.9 480.7L403.1 480.7L399.8 487.1M409.4 490.8L422.9 485.8M416.5 484.0L422.9 485.8L418.3 490.6M427.5 490.8L441.1 485.8M434.7 484.0L441.1 485.8L436.4 490.6M445.7 490.8L459.2 485.8M452.9 484.0L459.2 485.8L454.6 490.6M463.9 490.8L477.4 485.8M471.1 484.0L477.4 485.8L472.8 490.6M482.1 490.8L495.6 485.8M489.2 484.0L495.6 485.8L491.0 490.6M500.2 490.8L513.8 485.8M507.4 484.0L513.8 485.8L509.2 490.6M518.4 490.8L532.0 485.8M525.6 484.0L532.0 485.8L527.3 490.6M536.6 490.8L552.2 490.8M546.1 487.1L552.2 490.8L546.1 494.4M554.8 490.8L570.4 490.8M564.2 487.1L570.4 490.8L564.2 494.4M573.0 490.8L588.6 490.8M582.4 487.1L588.6 490.8L582.4 494.4M591.1 490.8L606.8 490.8M600.6 487.1L606.8 490.8L600.6 494.4M609.3 490.8L624.9 490.8M618.8 487.1L624.9 490.8L618.8 494.4M627.5 490.8L643.1 490.8M637.0 487.1L643.1 490.8L637.0 494.4M645.7 490.8L661.3 490.8M655.1 487.1L661.3 490.8L655.1 494.4M663.9 490.8L671.1 490.8M668.2 489.0L671.1 490.8L668.2 492.5M682.0 490.8L682.0 496.8M683.5 494.4L682.0 496.8L680.6 494.4M700.2 490.8L691.7 499.2M697.2 498.8L691.7 499.2L693.9 494.2M718.4 490.8L708.2 500.9M714.8 500.4L708.2 500.9L710.8 494.8M736.6 490.8L725.6 501.8M732.7 501.2L725.6 501.8L728.4 495.2M754.8 490.8L743.0 499.0M749.6 499.5L743.0 499.0L746.5 493.4M772.9 490.8L761.2 499.0M767.8 499.5L761.2 499.0L764.7 493.4M791.1 490.8L780.3 498.3M786.4 498.8L780.3 498.3L783.6 493.2M300.3 508.9L311.3 499.7M304.7 499.7L311.3 499.7L308.2 505.5M318.4 508.9L331.3 498.1M323.6 498.1L331.3 498.1L327.7 505.0M336.6 508.9L350.4 497.4M342.1 497.4L350.4 497.4L346.5 504.7M354.8 508.9L368.6 497.4M360.3 497.4L368.6 497.4L364.7 504.7M373.0 508.9L386.3 497.7M378.3 497.8L386.3 497.7L382.6 504.8M391.2 508.9L404.0 498.1M396.3 498.1L404.0 498.1L400.4 505.0M409.4 508.9L422.9 504.0M416.5 502.1L422.9 504.0L418.3 508.7M427.5 508.9L441.1 504.0M434.7 502.1L441.1 504.0L436.4 508.7M445.7 508.9L459.2 504.0M452.9 502.1L459.2 504.0L454.6 508.7M463.9 508.9L477.4 504.0M471.1 502.1L477.4 504.0L472.8 508.7M482.1 508.9L495.6 504.0M489.2 502.1L495.6 504.0L491.0 508.7M500.2 508.9L514.6 508.9M509.0 505.5L514.6 508.9L509.0 512.3M518.4 508.9L532.8 508.9M527.2 505.5L532.8 508.9L527.2 512.3M536.6 508.9L552.2 508.9M546.1 505.2L552.2 508.9L546.1 512.6M554.8 508.9L570.4 508.9M564.2 505.2L570.4 508.9L564.2 512.6M573.0 508.9L588.6 508.9M582.4 505.2L588.6 508.9L582.4 512.6M591.1 508.9L606.8 508.9M600.6 505.2L606.8 508.9L600.6 512.6M609.3 508.9L623.7 508.9M618.1 505.5L623.7 508.9L618.1 512.3M627.5 508.9L641.9 508.9M636.2 505.5L641.9 508.9L636.2 512.3M645.7 508.9L660.1 508.9M654.4 505.5L660.1 508.9L654.4 512.3M663.9 508.9L668.1 513.2M667.0 510.6L668.1 513.2L665.4 512.9M682.0 508.9L679.6 515.7M682.4 513.9L679.6 515.7L679.3 512.4M700.2 508.9L692.6 516.6M697.5 516.2L692.6 516.6L694.6 512.0M718.4 508.9L709.9 517.4M715.4 517.0L709.9 517.4L712.1 512.3M736.6 508.9L726.4 519.1M733.0 518.6L726.4 519.1L729.0 513.0M754.8 508.9L742.0 517.9M749.1 518.4L742.0 517.9L745.8 511.8M772.9 508.9L761.2 517.2M767.8 517.7L761.2 517.2L764.7 511.6M791.1 508.9L779.3 517.2M785.9 517.7L779.3 517.2L782.9 511.6M282.1 527.1L294.0 517.1M286.9 517.1L294.0 517.1L290.7 523.4M300.3 527.1L313.1 516.3M305.4 516.3L313.1 516.3L309.5 523.1M318.4 527.1L332.2 515.5M324.0 515.6L332.2 515.5L328.4 522.9M336.6 527.1L350.9 515.2M342.3 515.2L350.9 515.2L346.9 522.7M354.8 527.1L369.1 515.2M360.5 515.2L369.1 515.2L365.1 522.7M373.0 527.1L386.8 515.5M378.5 515.6L386.8 515.5L382.9 522.9M391.2 527.1L404.0 516.3M396.3 516.3L404.0 516.3L400.4 523.1M409.4 527.1L424.0 521.8M417.1 519.8L424.0 521.8L419.0 526.9M427.5 527.1L442.2 521.8M435.3 519.8L442.2 521.8L437.2 526.9M445.7 527.1L459.2 522.2M452.9 520.3L459.2 522.2L454.6 526.9M463.9 527.1L477.4 522.2M471.1 520.3L477.4 522.2L472.8 526.9M482.1 527.1L495.6 522.2M489.2 520.3L495.6 522.2L491.0 526.9M500.2 527.1L514.6 527.1M509.0 523.7L514.6 527.1L509.0 530.5M518.4 527.1L532.8 527.1M527.2 523.7L532.8 527.1L527.2 530.5M536.6 527.1L551.0 527.1M545.3 523.7L551.0 527.1L545.3 530.5M554.8 527.1L569.2 527.1M563.5 523.7L569.2 527.1L563.5 530.5M573.0 527.1L587.4 527.1M581.7 523.7L587.4 527.1L581.7 530.5M591.1 527.1L604.4 527.1M599.1 524.0L604.4 527.1L599.1 530.2M609.3 527.1L622.5 527.1M617.3 524.0L622.5 527.1L617.3 530.2M627.5 527.1L640.7 527.1M635.5 524.0L640.7 527.1L635.5 530.2M645.7 527.1L657.7 527.1M653.0 524.3L657.7 527.1L653.0 530.0M663.9 527.1L663.9 533.1M665.3 530.7L663.9 533.1L662.4 530.7M682.0 527.1L673.6 535.6M679.1 535.1L673.6 535.6L675.7 530.5M700.2 527.1L690.0 537.3M696.6 536.7L690.0 537.3L692.7 531.2M718.4 527.1L708.2 537.3M714.8 536.7L708.2 537.3L710.8 531.2M736.6 527.1L726.4 537.3M733.0 536.7L726.4 537.3L729.0 531.2M754.8 527.1L742.0 536.1M749.1 536.6L742.0 536.1L745.8 530.0M772.9 527.1L760.2 536.1M767.3 536.6L760.2 536.1L764.0 530.0M791.1 527.1L778.4 536.1M785.5 536.6L778.4 536.1L782.2 530.0M263.9 545.3L275.4 535.6M268.5 535.7L275.4 535.6L272.2 541.7M282.1 545.3L295.0 534.5M287.2 534.5L295.0 534.5L291.3 541.3M300.3 545.3L313.6 534.1M305.6 534.1L313.6 534.1L309.9 541.2M318.4 545.3L332.7 533.3M324.1 533.4L332.7 533.3L328.7 540.9M336.6 545.3L350.9 533.3M342.3 533.4L350.9 533.3L346.9 540.9M354.8 545.3L368.6 533.7M360.3 533.7L368.6 533.7L364.7 541.0M373.0 545.3L386.3 534.1M378.3 534.1L386.3 534.1L382.6 541.2M391.2 545.3L404.0 534.5M396.3 534.5L404.0 534.5L400.4 541.3M409.4 545.3L422.2 534.5M414.5 534.5L422.2 534.5L418.6 541.3M427.5 545.3L442.2 540.0M435.3 537.9L442.2 540.0L437.2 545.1M445.7 545.3L460.1 545.3M454.4 541.9L460.1 545.3L454.4 548.7M463.9 545.3L478.3 545.3M472.6 541.9L478.3 545.3L472.6 548.7M482.1 545.3L496.5 545.3M490.8 541.9L496.5 545.3L490.8 548.7M500.2 545.3L514.6 545.3M509.0 541.9L514.6 545.3L509.0 548.7M518.4 545.3L532.8 545.3M527.2 541.9L532.8 545.3L527.2 548.7M536.6 545.3L551.0 545.3M545.3 541.9L551.0 545.3L545.3 548.7M554.8 545.3L568.0 545.3M562.8 542.2L568.0 545.3L562.8 548.4M573.0 545.3L586.2 545.3M581.0 542.2L586.2 545.3L581.0 548.4M591.1 545.3L603.1 545.3M598.4 542.4L603.1 545.3L598.4 548.1M609.3 545.3L621.3 545.3M616.6 542.4L621.3 545.3L616.6 548.1M627.5 545.3L639.5 545.3M634.8 542.4L639.5 545.3L634.8 548.1M645.7 545.3L655.3 545.3M651.5 543.0L655.3 545.3L651.5 547.6M663.9 545.3L663.9 554.9M666.1 551.1L663.9 554.9L661.6 551.1M682.0 545.3L677.1 558.8M682.7 555.3L677.1 558.8L676.6 552.2M700.2 545.3L689.2 556.3M696.4 555.7L689.2 556.3L692.0 549.7M718.4 545.3L706.5 557.2M714.2 556.5L706.5 557.2L709.6 550.1M736.6 545.3L724.7 557.2M732.4 556.5L724.7 557.2L727.8 550.1M754.8 545.3L742.9 557.2M750.6 556.5L742.9 557.2L745.9 550.1M772.9 545.3L761.1 557.2M768.8 556.5L761.1 557.2L764.1 550.1M791.1 545.3L779.3 557.2M787.0 556.5L779.3 557.2L782.3 550.1M245.7 563.5L257.2 553.8M250.3 553.8L257.2 553.8L254.0 559.9M263.9 563.5L276.3 553.1M268.9 553.1L276.3 553.1L272.8 559.6M282.1 563.5L295.0 552.7M287.2 552.7L295.0 552.7L291.3 559.5M300.3 563.5L313.6 552.3M305.6 552.3L313.6 552.3L309.9 559.4M318.4 563.5L331.8 552.3M323.8 552.3L331.8 552.3L328.0 559.4M336.6 563.5L350.0 552.3M342.0 552.3L350.0 552.3L346.2 559.4M354.8 563.5L368.1 552.3M360.1 552.3L368.1 552.3L364.4 559.4M373.0 563.5L386.3 552.3M378.3 552.3L386.3 552.3L382.6 559.4M391.2 563.5L404.5 552.3M396.5 552.3L404.5 552.3L400.8 559.4M409.4 563.5L425.1 557.7M417.7 555.6L425.1 557.7L419.7 563.3M427.5 563.5L443.7 563.5M437.3 559.6L443.7 563.5L437.3 567.3M445.7 563.5L460.7 563.5M454.8 559.9L460.7 563.5L454.8 567.0M463.9 563.5L477.1 563.5M471.9 560.3L477.1 563.5L471.9 566.6M482.1 563.5L494.1 563.5M489.3 560.6L494.1 563.5L489.3 566.3M500.2 563.5L512.2 563.5M507.5 560.6L512.2 563.5L507.5 566.3M518.4 563.5L530.4 563.5M525.7 560.6L530.4 563.5L525.7 566.3M536.6 563.5L548.6 563.5M543.9 560.6L548.6 563.5L543.9 566.3M554.8 563.5L566.8 563.5M562.1 560.6L566.8 563.5L562.1 566.3M573.0 563.5L583.8 563.5M579.5 560.9L583.8 563.5L579.5 566.0M591.1 563.5L601.9 563.5M597.7 560.9L601.9 563.5L597.7 566.0M609.3 563.5L620.1 563.5M615.9 560.9L620.1 563.5L615.9 566.0M627.5 563.5L638.3 563.5M634.1 560.9L638.3 563.5L634.1 566.0M645.7 563.5L651.6 569.4M650.1 565.9L651.6 569.4L647.8 569.1M663.9 563.5L663.9 577.9M667.3 572.2L663.9 577.9L660.5 572.2M682.0 563.5L677.1 577.0M682.7 573.5L677.1 577.0L676.6 570.4M700.2 563.5L687.5 576.2M695.8 575.5L687.5 576.2L690.8 568.6M718.4 563.5L705.7 576.2M713.9 575.5L705.7 576.2L709.0 568.6M736.6 563.5L724.3 575.8M732.3 575.1L724.3 575.8L727.4 568.4M754.8 563.5L742.5 575.8M750.4 575.1L742.5 575.8L745.6 568.4M772.9 563.5L760.6 575.8M768.6 575.1L760.6 575.8L763.8 568.4M791.1 563.5L778.8 575.8M786.8 575.1L778.8 575.8L782.0 568.4M209.4 581.6L218.6 573.9M213.0 573.9L218.6 573.9L216.0 578.8M227.6 581.6L238.6 572.4M232.0 572.4L238.6 572.4L235.5 578.2M245.7 581.6L257.2 572.0M250.3 572.0L257.2 572.0L254.0 578.1M263.9 581.6L276.3 571.2M268.9 571.3L276.3 571.2L272.8 577.8M282.1 581.6L295.0 570.9M287.2 570.9L295.0 570.9L291.3 577.7M300.3 581.6L313.1 570.9M305.4 570.9L313.1 570.9L309.5 577.7M318.4 581.6L331.3 570.9M323.6 570.9L331.3 570.9L327.7 577.7M336.6 581.6L349.5 570.9M341.8 570.9L349.5 570.9L345.9 577.7M354.8 581.6L367.7 570.9M360.0 570.9L367.7 570.9L364.1 577.7M373.0 581.6L385.4 571.2M377.9 571.3L385.4 571.2L381.9 577.8M391.2 581.6L404.0 570.9M396.3 570.9L404.0 570.9L400.4 577.7M409.4 581.6L425.6 581.6M419.2 577.8L425.6 581.6L419.2 585.5M427.5 581.6L442.5 581.6M436.6 578.1L442.5 581.6L436.6 585.2M445.7 581.6L460.1 581.6M454.4 578.2L460.1 581.6L454.4 585.1M463.9 581.6L477.1 581.6M471.9 578.5L477.1 581.6L471.9 584.8M482.1 581.6L494.1 581.6M489.3 578.8L494.1 581.6L489.3 584.5M500.2 581.6L512.2 581.6M507.5 578.8L512.2 581.6L507.5 584.5M518.4 581.6L529.2 581.6M525.0 579.1L529.2 581.6L525.0 584.2M536.6 581.6L547.4 581.6M543.2 579.1L547.4 581.6L543.2 584.2M554.8 581.6L565.6 581.6M561.3 579.1L565.6 581.6L561.3 584.2M573.0 581.6L583.1 585.3M579.6 581.8L583.1 585.3L578.4 586.7M591.1 581.6L601.3 585.3M597.8 581.8L601.3 585.3L596.5 586.7M609.3 581.6L620.1 581.6M615.9 579.1L620.1 581.6L615.9 584.2M627.5 581.6L638.3 581.6M634.1 579.1L638.3 581.6L634.1 584.2M645.7 581.6L652.5 588.4M650.7 584.4L652.5 588.4L648.1 588.1M663.9 581.6L658.9 595.2M664.6 591.7L658.9 595.2L658.5 588.6M682.0 581.6L671.0 592.7M678.2 592.1L671.0 592.7L673.9 586.1M700.2 581.6L687.5 594.4M695.8 593.7L687.5 594.4L690.8 586.8M718.4 581.6L705.3 594.8M713.8 594.1L705.3 594.8L708.6 586.9M736.6 581.6L723.9 594.4M732.1 593.7L723.9 594.4L727.1 586.8M754.8 581.6L742.5 594.0M750.4 593.3L742.5 594.0L745.6 586.6M772.9 581.6L760.6 594.0M768.6 593.3L760.6 594.0L763.8 586.6M791.1 581.6L778.8 594.0M786.8 593.3L778.8 594.0L782.0 586.6M136.7 599.8L143.1 594.4M139.2 594.4L143.1 594.4L141.3 597.8M154.8 599.8L162.2 593.7M157.8 593.7L162.2 593.7L160.1 597.6M173.0 599.8L180.4 593.7M175.9 593.7L180.4 593.7L178.3 597.6M191.2 599.8L199.5 592.9M194.5 592.9L199.5 592.9L197.1 597.3M209.4 599.8L218.6 592.1M213.0 592.1L218.6 592.1L216.0 597.0M227.6 599.8L237.7 591.3M231.6 591.4L237.7 591.3L234.8 596.7M245.7 599.8L257.2 590.2M250.3 590.2L257.2 590.2L254.0 596.3M263.9 599.8L275.9 589.8M268.7 589.8L275.9 589.8L272.5 596.1M282.1 599.8L294.5 589.4M287.0 589.4L294.5 589.4L291.0 596.0M300.3 599.8L312.7 589.4M305.2 589.4L312.7 589.4L309.2 596.0M318.4 599.8L330.9 589.4M323.4 589.4L330.9 589.4L327.4 596.0M336.6 599.8L349.0 589.4M341.6 589.4L349.0 589.4L345.6 596.0M354.8 599.8L367.2 589.4M359.8 589.4L367.2 589.4L363.7 596.0M373.0 599.8L385.4 589.4M377.9 589.4L385.4 589.4L381.9 596.0M391.2 599.8L403.1 589.8M395.9 589.8L403.1 589.8L399.8 596.1M409.4 599.8L424.4 599.8M418.4 596.3L424.4 599.8L418.4 603.4M427.5 599.8L440.7 599.8M435.5 596.7L440.7 599.8L435.5 603.0M445.7 599.8L457.7 599.8M453.0 597.0L457.7 599.8L453.0 602.7M463.9 599.8L474.7 599.8M470.4 597.3L474.7 599.8L470.4 602.4M482.1 599.8L492.9 599.8M488.6 597.3L492.9 599.8L488.6 602.4M500.2 599.8L511.1 599.8M506.8 597.3L511.1 599.8L506.8 602.4M518.4 599.8L529.2 599.8M525.0 597.3L529.2 599.8L525.0 602.4M536.6 599.8L547.4 599.8M543.2 597.3L547.4 599.8L543.2 602.4M554.8 599.8L565.6 599.8M561.3 597.3L565.6 599.8L561.3 602.4M573.0 599.8L583.1 603.5M579.6 600.0L583.1 603.5L578.4 604.9M591.1 599.8L601.3 603.5M597.8 600.0L601.3 603.5L596.5 604.9M609.3 599.8L619.5 603.5M616.0 600.0L619.5 603.5L614.7 604.9M627.5 599.8L635.1 607.5M633.2 602.9L635.1 607.5L630.2 607.1M645.7 599.8L650.8 610.7M650.6 605.2L650.8 610.7L645.8 608.3M663.9 599.8L658.9 613.4M664.6 609.8L658.9 613.4L658.5 606.8M682.0 599.8L670.2 611.7M677.9 611.1L670.2 611.7L673.2 604.6M700.2 599.8L687.1 613.0M695.6 612.3L687.1 613.0L690.5 605.1M718.4 599.8L703.2 610.5M711.7 611.1L703.2 610.5L707.7 603.3M736.6 599.8L721.4 610.5M729.9 611.1L721.4 610.5L725.9 603.3M754.8 599.8L740.0 610.2M748.3 610.8L740.0 610.2L744.4 603.2M772.9 599.8L758.7 609.8M766.7 610.4L758.7 609.8L763.0 603.0M791.1 599.8L776.9 609.8M784.9 610.4L776.9 609.8L781.1 603.0M27.6 618.0L33.1 613.4M29.8 613.4L33.1 613.4L31.5 616.3M45.8 618.0L51.3 613.4M48.0 613.4L51.3 613.4L49.7 616.3M63.9 618.0L69.4 613.4M66.1 613.4L69.4 613.4L67.9 616.3M82.1 618.0L89.5 611.8M85.0 611.8L89.5 611.8L87.4 615.7M100.3 618.0L106.3 613.0M102.7 613.0L106.3 613.0L104.6 616.2M118.5 618.0L123.5 613.8M120.5 613.8L123.5 613.8L122.1 616.5M136.7 618.0L141.2 614.2M138.5 614.2L141.2 614.2L140.0 616.6M154.8 618.0L160.8 613.0M157.2 613.0L160.8 613.0L159.1 616.2M173.0 618.0L179.4 612.6M175.6 612.6L179.4 612.6L177.6 616.0M191.2 618.0L199.5 611.1M194.5 611.1L199.5 611.1L197.1 615.5M209.4 618.0L218.6 610.3M213.0 610.3L218.6 610.3L216.0 615.2M227.6 618.0L237.7 609.5M231.6 609.5L237.7 609.5L234.8 614.9M245.7 618.0L256.8 608.8M250.1 608.8L256.8 608.8L253.7 614.6M263.9 618.0L275.4 608.4M268.5 608.4L275.4 608.4L272.2 614.5M282.1 618.0L294.0 608.0M286.9 608.0L294.0 608.0L290.7 614.3M300.3 618.0L312.2 608.0M305.0 608.0L312.2 608.0L308.9 614.3M318.4 618.0L330.4 608.0M323.2 608.0L330.4 608.0L327.0 614.3M336.6 618.0L348.6 608.0M341.4 608.0L348.6 608.0L345.2 614.3M354.8 618.0L366.8 608.0M359.6 608.0L366.8 608.0L363.4 614.3M373.0 618.0L384.5 608.4M377.6 608.4L384.5 608.4L381.3 614.5M391.2 618.0L402.7 608.4M395.8 608.4L402.7 608.4L399.4 614.5M409.4 618.0L422.6 618.0M417.3 614.9L422.6 618.0L417.3 621.1M427.5 618.0L439.5 618.0M434.8 615.2L439.5 618.0L434.8 620.9M445.7 618.0L456.5 618.0M452.3 615.5L456.5 618.0L452.3 620.6M463.9 618.0L474.7 618.0M470.4 615.5L474.7 618.0L470.4 620.6M482.1 618.0L492.9 618.0M488.6 615.5L492.9 618.0L488.6 620.6M500.2 618.0L509.9 618.0M506.1 615.7L509.9 618.0L506.1 620.3M518.4 618.0L528.0 618.0M524.2 615.7L528.0 618.0L524.2 620.3M536.6 618.0L546.2 618.0M542.4 615.7L546.2 618.0L542.4 620.3M554.8 618.0L564.4 618.0M560.6 615.7L564.4 618.0L560.6 620.3M573.0 618.0L583.8 618.0M579.5 615.5L583.8 618.0L579.5 620.6M591.1 618.0L601.9 618.0M597.7 615.5L601.9 618.0L597.7 620.6M609.3 618.0L616.1 624.8M614.4 620.7L616.1 624.8L611.7 624.4M627.5 618.0L633.6 631.1M633.4 624.4L633.6 631.1L627.6 628.1M645.7 618.0L645.7 633.6M649.4 627.5L645.7 633.6L642.0 627.5M663.9 618.0L658.1 633.8M664.7 629.7L658.1 633.8L657.6 626.1M682.0 618.0L668.9 631.2M677.4 630.5L668.9 631.2L672.3 623.3M700.2 618.0L682.6 625.5M691.1 627.6L682.6 625.5L688.5 618.9M718.4 618.0L700.7 625.5M709.3 627.6L700.7 625.5L706.6 618.9M736.6 618.0L719.5 625.3M727.8 627.3L719.5 625.3L725.2 618.9M754.8 618.0L738.2 625.0M746.2 627.0L738.2 625.0L743.7 618.9M772.9 618.0L756.9 624.8M764.7 626.7L756.9 624.8L762.3 618.9M791.1 618.0L775.1 624.8M782.9 626.7L775.1 624.8L780.5 618.9M9.4 636.2L14.4 631.9M11.4 632.0L14.4 631.9L13.0 634.6M27.6 636.2L33.5 631.2M30.0 631.2L33.5 631.2L31.9 634.3M45.8 636.2L45.8 628.4M43.9 631.5L45.8 628.4L47.6 631.5M63.9 636.2L63.9 628.4M62.1 631.5L63.9 628.4L65.8 631.5M82.1 636.2L82.1 628.4M80.3 631.5L82.1 628.4L84.0 631.5M100.3 636.2L100.3 630.2M98.9 632.6L100.3 630.2L101.7 632.6M118.5 636.2L118.5 630.8M117.2 632.9L118.5 630.8L119.7 632.9M136.7 636.2L136.7 630.8M135.4 632.9L136.7 630.8L137.9 632.9M154.8 636.2L157.9 629.7M154.9 631.1L157.9 629.7L157.8 633.0M173.0 636.2L176.3 629.1M173.1 630.7L176.3 629.1L176.2 632.7M191.2 636.2L198.5 630.0M194.1 630.0L198.5 630.0L196.5 633.9M209.4 636.2L218.1 628.9M212.9 628.9L218.1 628.9L215.7 633.5M227.6 636.2L236.7 628.5M231.2 628.5L236.7 628.5L234.2 633.4M245.7 636.2L254.9 628.5M249.4 628.5L254.9 628.5L252.3 633.4M263.9 636.2L274.0 627.7M267.9 627.7L274.0 627.7L271.2 633.1M282.1 636.2L293.1 626.9M286.5 626.9L293.1 626.9L290.0 632.8M300.3 636.2L311.3 626.9M304.7 626.9L311.3 626.9L308.2 632.8M318.4 636.2L329.9 626.5M323.0 626.6L329.9 626.5L326.7 632.6M336.6 636.2L347.7 626.9M341.0 626.9L347.7 626.9L344.6 632.8M354.8 636.2L365.8 626.9M359.2 626.9L365.8 626.9L362.7 632.8M373.0 636.2L386.5 631.3M380.2 629.4L386.5 631.3L381.9 636.0M391.2 636.2L404.7 631.3M398.3 629.4L404.7 631.3L400.1 636.0M409.4 636.2L421.8 640.7M417.5 636.4L421.8 640.7L415.9 642.4M427.5 636.2L436.0 644.7M433.8 639.6L436.0 644.7L430.5 644.2M445.7 636.2L453.3 643.8M451.4 639.3L453.3 643.8L448.4 643.4M463.9 636.2L469.8 642.1M468.3 638.6L469.8 642.1L466.0 641.8M482.1 636.2L488.0 642.1M486.5 638.6L488.0 642.1L484.2 641.8M500.2 636.2L506.2 642.1M504.7 638.6L506.2 642.1L502.3 641.8M518.4 636.2L524.4 642.1M522.8 638.6L524.4 642.1L520.5 641.8M536.6 636.2L543.4 643.0M541.7 638.9L543.4 643.0L539.0 642.6M554.8 636.2L561.6 643.0M559.8 638.9L561.6 643.0L557.2 642.6M573.0 636.2L577.2 640.4M576.1 637.9L577.2 640.4L574.5 640.2M591.1 636.2L595.8 640.9M594.6 638.1L595.8 640.9L592.8 640.6M609.3 636.2L599.1 646.4M605.7 645.8L599.1 646.4L601.8 640.3M627.5 636.2L616.9 646.8M623.8 646.2L616.9 646.8L619.6 640.5M645.7 636.2L629.1 643.2M637.2 645.2L629.1 643.2L634.7 637.1M663.9 636.2L646.7 643.5M655.1 645.5L646.7 643.5L652.5 637.1M682.0 636.2L663.8 643.9M672.7 646.1L663.8 643.9L669.9 637.2M700.2 636.2L680.5 638.3M688.7 642.3L680.5 638.3L688.0 633.0M718.4 636.2L699.3 638.2M707.2 642.2L699.3 638.2L706.5 633.1M736.6 636.2L718.1 638.1M725.7 642.0L718.1 638.1L725.1 633.2M754.8 636.2L736.9 638.1M744.3 641.8L736.9 638.1L743.6 633.3M772.9 636.2L755.0 638.1M762.4 641.8L755.0 638.1L761.8 633.3M791.1 636.2L773.8 638.0M781.0 641.6L773.8 638.0L780.4 633.4M9.4 654.4L14.4 650.1M11.4 650.1L14.4 650.1L13.0 652.8M27.6 654.4L33.5 649.4M30.0 649.4L33.5 649.4L31.9 652.5M45.8 654.4L45.8 646.6M43.9 649.6L45.8 646.6L47.6 649.6M63.9 654.4L63.9 646.6M62.1 649.6L63.9 646.6L65.8 649.6M82.1 654.4L82.1 647.8M80.5 650.4L82.1 647.8L83.7 650.4M100.3 654.4L100.3 649.6M99.2 651.5L100.3 649.6L101.4 651.5M118.5 654.4L118.5 649.6M117.3 651.5L118.5 649.6L119.6 651.5M136.7 654.4L136.7 649.0M135.4 651.1L136.7 649.0L137.9 651.1M154.8 654.4L157.6 648.4M154.9 649.7L157.6 648.4L157.5 651.4M173.0 654.4L176.1 647.8M173.1 649.3L176.1 647.8L175.9 651.2M191.2 654.4L197.6 649.0M193.8 649.0L197.6 649.0L195.8 652.4M209.4 654.4L213.9 644.6M209.5 646.8L213.9 644.6L213.8 649.5M227.6 654.4L232.1 644.6M227.7 646.8L232.1 644.6L231.9 649.5M245.7 654.4L250.3 644.6M245.8 646.8L250.3 644.6L250.1 649.5M263.9 654.4L268.5 644.6M264.0 646.8L268.5 644.6L268.3 649.5M282.1 654.4L287.2 643.5M282.2 645.9L287.2 643.5L287.0 649.0M300.3 654.4L300.3 640.0M296.9 645.6L300.3 640.0L303.7 645.6M318.4 654.4L325.0 640.2M318.6 643.4L325.0 640.2L324.8 647.4M336.6 654.4L343.2 640.2M336.8 643.4L343.2 640.2L343.0 647.4M354.8 654.4L360.9 641.3M354.9 644.2L360.9 641.3L360.7 647.9M373.0 654.4L380.8 647.8M376.1 647.8L380.8 647.8L378.6 652.0M391.2 654.4L400.2 651.1M396.0 649.8L400.2 651.1L397.1 654.2M409.4 654.4L417.2 654.4M414.1 652.5L417.2 654.4L414.1 656.2M427.5 654.4L430.3 660.4M430.2 657.3L430.3 660.4L427.6 659.0M445.7 654.4L445.7 661.0M447.3 658.4L445.7 661.0L444.1 658.4M463.9 654.4L466.2 659.3M466.1 656.8L466.2 659.3L463.9 658.2M482.1 654.4L485.5 657.8M484.6 655.7L485.5 657.8L483.3 657.6M500.2 654.4L503.6 657.8M502.8 655.7L503.6 657.8L501.4 657.6M518.4 654.4L520.5 658.7M520.4 656.5L520.5 658.7L518.5 657.7M536.6 654.4L535.0 658.9M536.8 657.7L535.0 658.9L534.8 656.7M554.8 654.4L549.7 659.5M553.0 659.2L549.7 659.5L551.0 656.4M573.0 654.4L564.9 662.4M570.1 662.0L564.9 662.4L567.0 657.6M591.1 654.4L580.5 665.0M587.4 664.4L580.5 665.0L583.3 658.6M609.3 654.4L590.8 656.3M598.5 660.2L590.8 656.3L597.8 651.4M627.5 654.4L607.8 656.4M616.0 660.5L607.8 656.4L615.2 651.2M645.7 654.4L625.4 656.5M633.8 660.7L625.4 656.5L633.1 651.1M663.9 654.4L642.4 656.6M651.3 661.1L642.4 656.6L650.5 650.9M682.0 654.4L660.6 656.6M669.4 661.1L660.6 656.6L668.7 650.9M700.2 654.4L679.3 656.6M688.0 660.9L679.3 656.6L687.2 651.0M718.4 654.4L698.1 656.5M706.5 660.7L698.1 656.5L705.8 651.1M736.6 654.4L717.5 656.4M725.4 660.3L717.5 656.4L724.7 651.3M754.8 654.4L736.3 656.3M743.9 660.2L736.3 656.3L743.3 651.4M772.9 654.4L754.5 656.3M762.1 660.2L754.5 656.3L761.4 651.4M791.1 654.4L773.2 656.3M780.6 660.0L773.2 656.3L780.0 651.5M9.4 672.5L14.4 668.3M11.4 668.3L14.4 668.3L13.0 671.0M27.6 672.5L33.5 667.5M30.0 667.5L33.5 667.5L31.9 670.7M45.8 672.5L45.8 664.8M43.9 667.8L45.8 664.8L47.6 667.8M63.9 672.5L63.9 664.8M62.1 667.8L63.9 664.8L65.8 667.8M82.1 672.5L82.1 668.3M81.1 670.0L82.1 668.3L83.1 670.0M100.3 672.5L100.3 668.3M99.3 670.0L100.3 668.3L101.3 670.0M118.5 672.5L118.5 667.8M117.3 669.6L118.5 667.8L119.6 669.6M136.7 672.5L136.7 667.1M135.4 669.3L136.7 667.1L137.9 669.3M154.8 672.5L154.8 665.9M153.3 668.6L154.8 665.9L156.4 668.6M173.0 672.5L176.1 666.0M173.1 667.5L176.1 666.0L175.9 669.3M191.2 672.5L194.7 664.9M191.3 666.6L194.7 664.9L194.6 668.8M209.4 672.5L213.7 663.3M209.5 665.4L213.7 663.3L213.5 668.0M227.6 672.5L231.6 663.8M227.6 665.8L231.6 663.8L231.5 668.3M245.7 672.5L249.8 663.8M245.8 665.8L249.8 663.8L249.6 668.3M263.9 672.5L268.2 663.3M264.0 665.4L268.2 663.3L268.1 668.0M282.1 672.5L286.9 662.2M282.2 664.5L286.9 662.2L286.7 667.5M300.3 672.5L305.8 660.6M300.4 663.3L305.8 660.6L305.6 666.7M318.4 672.5L318.4 655.1M314.3 662.0L318.4 655.1L322.6 662.0M336.6 672.5L336.6 655.1M332.5 662.0L336.6 655.1L340.8 662.0M354.8 672.5L361.4 658.4M355.0 661.6L361.4 658.4L361.2 665.6M373.0 672.5L377.0 663.8M373.1 665.8L377.0 663.8L376.9 668.3M391.2 672.5L393.6 672.5M392.6 672.0L393.6 672.5L392.6 673.1M409.4 672.5L409.4 676.1M410.2 674.7L409.4 676.1L408.5 674.7M427.5 672.5L427.5 679.8M429.2 676.9L427.5 679.8L425.8 676.9M445.7 672.5L445.7 679.8M447.4 676.9L445.7 679.8L444.0 676.9M463.9 672.5L463.9 679.8M465.6 676.9L463.9 679.8L462.2 676.9M482.1 672.5L474.4 680.2M479.4 679.8L474.4 680.2L476.4 675.6M500.2 672.5L490.1 682.7M496.7 682.2L490.1 682.7L492.7 676.6M518.4 672.5L499.7 680.5M508.8 682.8L499.7 680.5L505.9 673.5M536.6 672.5L516.3 674.7M524.7 678.9L516.3 674.7L524.0 669.3M554.8 672.5L534.5 674.7M542.9 678.9L534.5 674.7L542.2 669.3M573.0 672.5L552.7 674.7M561.1 678.9L552.7 674.7L560.3 669.3M591.1 672.5L570.9 674.7M579.2 678.9L570.9 674.7L578.5 669.3M609.3 672.5L587.8 674.8M596.7 679.3L587.8 674.8L596.0 669.1M627.5 672.5L604.8 674.9M614.2 679.6L604.8 674.9L613.4 668.9M645.7 672.5L621.8 675.1M631.7 680.0L621.8 675.1L630.8 668.7M663.9 672.5L640.0 675.1M649.9 680.0L640.0 675.1L649.0 668.7M682.0 672.5L659.4 674.9M668.7 679.6L659.4 674.9L667.9 668.9M700.2 672.5L677.6 674.9M686.9 679.6L677.6 674.9L686.1 668.9M718.4 672.5L696.9 674.8M705.8 679.3L696.9 674.8L705.0 669.1M736.6 672.5L716.3 674.7M724.7 678.9L716.3 674.7L724.0 669.3M754.8 672.5L734.5 674.7M742.9 678.9L734.5 674.7L742.1 669.3M772.9 672.5L753.9 674.6M761.7 678.5L753.9 674.6L761.1 669.4M791.1 672.5L772.0 674.6M779.9 678.5L772.0 674.6L779.2 669.4M9.4 690.7L15.4 685.7M11.8 685.7L15.4 685.7L13.7 688.9M27.6 690.7L34.0 685.3M30.1 685.3L34.0 685.3L32.2 688.7M45.8 690.7L45.8 682.3M43.8 685.6L45.8 682.3L47.7 685.6M63.9 690.7L63.9 682.3M61.9 685.6L63.9 682.3L65.9 685.6M82.1 690.7L82.1 687.1M81.3 688.5L82.1 687.1L83.0 688.5M100.3 690.7L100.3 686.5M99.3 688.2L100.3 686.5L101.3 688.2M118.5 690.7L118.5 685.9M117.3 687.8L118.5 685.9L119.6 687.8M136.7 690.7L136.7 685.3M135.4 687.5L136.7 685.3L137.9 687.5M154.8 690.7L154.8 684.7M153.4 687.1L154.8 684.7L156.3 687.1M173.0 690.7L173.0 683.5M171.3 686.4L173.0 683.5L174.7 686.4M191.2 690.7L195.0 682.6M191.3 684.4L195.0 682.6L194.9 686.7M209.4 690.7L209.4 681.1M207.1 684.9L209.4 681.1L211.6 684.9M227.6 690.7L227.6 681.1M225.3 684.9L227.6 681.1L229.8 684.9M245.7 690.7L245.7 681.1M243.5 684.9L245.7 681.1L248.0 684.9M263.9 690.7L263.9 680.5M261.5 684.6L263.9 680.5L266.3 684.6M282.1 690.7L282.1 679.3M279.4 683.8L282.1 679.3L284.8 683.8M300.3 690.7L300.3 677.5M297.1 682.7L300.3 677.5L303.4 682.7M318.4 690.7L318.4 672.1M314.0 679.5L318.4 672.1L322.9 679.5M336.6 690.7L336.6 672.1M332.2 679.5L336.6 672.1L341.0 679.5M354.8 690.7L354.8 674.5M351.0 680.9L354.8 674.5L358.6 680.9M373.0 690.7L364.5 682.2M366.7 687.3L364.5 682.2L370.0 682.7M391.2 690.7L381.0 687.0M384.5 690.6L381.0 687.0L385.8 685.6M409.4 690.7L395.0 692.2M400.9 695.2L395.0 692.2L400.4 688.4M427.5 690.7L413.7 696.6M420.4 698.3L413.7 696.6L418.3 691.5M445.7 690.7L431.9 696.6M438.6 698.3L431.9 696.6L436.5 691.5M463.9 690.7L449.0 697.1M456.2 698.9L449.0 697.1L454.0 691.5M482.1 690.7L464.8 692.5M471.9 696.1L464.8 692.5L471.3 687.9M500.2 690.7L482.3 692.6M489.7 696.3L482.3 692.6L489.1 687.8M518.4 690.7L499.3 692.7M507.2 696.7L499.3 692.7L506.5 687.6M536.6 690.7L515.1 693.0M524.0 697.4L515.1 693.0L523.2 687.2M554.8 690.7L533.3 693.0M542.2 697.4L533.3 693.0L541.4 687.2M573.0 690.7L551.5 693.0M560.4 697.4L551.5 693.0L559.6 687.2M591.1 690.7L569.7 693.0M578.5 697.4L569.7 693.0L577.8 687.2M609.3 690.7L585.5 693.2M595.3 698.2L585.5 693.2L594.5 686.9M627.5 690.7L603.6 693.2M613.5 698.2L603.6 693.2L612.6 686.9M645.7 690.7L620.6 693.4M631.0 698.6L620.6 693.4L630.1 686.7M663.9 690.7L638.8 693.4M649.2 698.6L638.8 693.4L648.3 686.7M682.0 690.7L658.2 693.2M668.0 698.2L658.2 693.2L667.2 686.9M700.2 690.7L677.6 693.1M686.9 697.8L677.6 693.1L686.1 687.0M718.4 690.7L696.9 693.0M705.8 697.4L696.9 693.0L705.0 687.2M736.6 690.7L716.3 692.9M724.7 697.1L716.3 692.9L724.0 687.4M754.8 690.7L734.5 692.9M742.9 697.1L734.5 692.9L742.1 687.4M772.9 690.7L753.9 692.7M761.7 696.7L753.9 692.7L761.1 687.6M791.1 690.7L772.0 692.7M779.9 696.7L772.0 692.7L779.2 687.6M9.4 708.9L14.0 705.1M11.2 705.1L14.0 705.1L12.7 707.5M27.6 708.9L29.6 704.6M27.6 705.5L29.6 704.6L29.5 706.8M45.8 708.9L45.8 704.1M44.6 706.0L45.8 704.1L46.9 706.0M63.9 708.9L63.9 704.1M62.8 706.0L63.9 704.1L65.1 706.0M82.1 708.9L82.1 704.7M81.1 706.4L82.1 704.7L83.1 706.4M100.3 708.9L100.3 704.7M99.3 706.4L100.3 704.7L101.3 706.4M118.5 708.9L116.4 704.6M116.5 706.8L116.4 704.6L118.4 705.5M136.7 708.9L136.7 704.7M135.7 706.4L136.7 704.7L137.6 706.4M154.8 708.9L154.8 703.5M153.6 705.6L154.8 703.5L156.1 705.6M173.0 708.9L173.0 701.7M171.3 704.5L173.0 701.7L174.7 704.5M191.2 708.9L191.2 699.3M188.9 703.1L191.2 699.3L193.5 703.1M209.4 708.9L205.3 700.2M205.5 704.6L205.3 700.2L209.3 702.2M227.6 708.9L223.5 700.2M223.6 704.6L223.5 700.2L227.5 702.2M245.7 708.9L241.7 700.2M241.8 704.6L241.7 700.2L245.6 702.2M263.9 708.9L259.3 699.1M259.5 704.1L259.3 699.1L263.8 701.3M282.1 708.9L277.0 698.0M277.2 703.6L277.0 698.0L282.0 700.5M300.3 708.9L294.7 696.9M294.9 703.0L294.7 696.9L300.1 699.6M318.4 708.9L311.1 693.1M311.4 701.1L311.1 693.1L318.3 696.7M336.6 708.9L329.0 692.6M329.3 700.9L329.0 692.6L336.5 696.2M354.8 708.9L342.9 697.0M346.0 704.1L342.9 697.0L350.6 697.7M373.0 708.9L361.5 697.5M364.5 704.3L361.5 697.5L369.0 698.1M391.2 708.9L377.1 703.8M381.9 708.7L377.1 703.8L383.7 701.8M409.4 708.9L392.6 710.7M399.5 714.1L392.6 710.7L398.9 706.2M427.5 708.9L410.8 710.7M417.7 714.1L410.8 710.7L417.1 706.2M445.7 708.9L428.4 710.7M435.6 714.3L428.4 710.7L434.9 706.1M463.9 708.9L445.4 710.9M453.0 714.7L445.4 710.9L452.4 705.9M482.1 708.9L463.6 710.9M471.2 714.7L463.6 710.9L470.6 705.9M500.2 708.9L480.0 711.0M488.3 715.3L480.0 711.0L487.6 705.6M518.4 708.9L496.9 711.2M505.8 715.6L496.9 711.2L505.1 705.4M536.6 708.9L513.9 711.3M523.3 716.0L513.9 711.3L522.5 705.2M554.8 708.9L532.1 711.3M541.5 716.0L532.1 711.3L540.7 705.2M573.0 708.9L549.1 711.4M559.0 716.4L549.1 711.4L558.1 705.0M591.1 708.9L567.3 711.4M577.1 716.4L567.3 711.4L576.3 705.0M609.3 708.9L584.3 711.5M594.6 716.7L584.3 711.5L593.7 704.8M627.5 708.9L602.4 711.5M612.8 716.7L602.4 711.5L611.9 704.8M645.7 708.9L619.4 711.7M630.3 717.1L619.4 711.7L629.3 704.6M663.9 708.9L637.6 711.7M648.5 717.1L637.6 711.7L647.5 704.6M682.0 708.9L657.0 711.5M667.3 716.7L657.0 711.5L666.4 704.8M700.2 708.9L677.6 711.3M686.9 716.0L677.6 711.3L686.1 705.2M718.4 708.9L696.9 711.2M705.8 715.6L696.9 711.2L705.0 705.4M736.6 708.9L716.3 711.0M724.7 715.3L716.3 711.0L724.0 705.6M754.8 708.9L734.5 711.0M742.9 715.3L734.5 711.0L742.1 705.6M772.9 708.9L753.9 710.9M761.7 714.9L753.9 710.9L761.1 705.8M791.1 708.9L772.0 710.9M779.9 714.9L772.0 710.9L779.2 705.8M9.4 727.1L4.3 725.2M6.1 727.0L4.3 725.2L6.7 724.5M27.6 727.1L23.1 725.4M24.6 727.0L23.1 725.4L25.2 724.8M45.8 727.1L45.8 722.3M44.6 724.2L45.8 722.3L46.9 724.2M63.9 727.1L63.9 722.3M62.8 724.2L63.9 722.3L65.1 724.2M82.1 727.1L82.1 722.3M81.0 724.2L82.1 722.3L83.2 724.2M100.3 727.1L98.3 722.7M98.3 724.9L98.3 722.7L100.2 723.7M118.5 727.1L116.7 723.3M116.8 725.2L116.7 723.3L118.4 724.1M136.7 727.1L133.7 724.1M134.4 725.9L133.7 724.1L135.6 724.3M154.8 727.1L154.8 721.7M153.6 723.8L154.8 721.7L156.1 723.8M173.0 727.1L170.2 721.1M170.3 724.1L170.2 721.1L172.9 722.4M191.2 727.1L187.4 718.9M187.5 723.1L187.4 718.9L191.1 720.8M209.4 727.1L205.3 718.4M205.5 722.8L205.3 718.4L209.3 720.3M227.6 727.1L223.5 718.4M223.6 722.8L223.5 718.4L227.5 720.3M245.7 727.1L238.9 720.3M240.7 724.4L238.9 720.3L243.3 720.7M263.9 727.1L256.3 719.5M258.2 724.0L256.3 719.5L261.2 719.9M282.1 727.1L273.6 718.6M275.8 723.7L273.6 718.6L279.1 719.1M300.3 727.1L294.2 714.0M294.4 720.7L294.2 714.0L300.1 717.0M318.4 727.1L307.0 715.6M309.9 722.5L307.0 715.6L314.4 716.3M336.6 727.1L324.3 714.8M327.5 722.1L324.3 714.8L332.3 715.4M354.8 727.1L342.1 714.4M345.4 722.0L342.1 714.4L350.3 715.0M373.0 727.1L359.8 713.9M363.2 721.8L359.8 713.9L368.4 714.6M391.2 727.1L374.8 721.1M380.4 726.9L374.8 721.1L382.5 718.9M409.4 727.1L392.0 728.9M399.2 732.5L392.0 728.9L398.6 724.3M427.5 727.1L409.6 729.0M417.0 732.7L409.6 729.0L416.4 724.2M445.7 727.1L427.8 729.0M435.2 732.7L427.8 729.0L434.6 724.2M463.9 727.1L445.4 729.0M453.0 732.9L445.4 729.0L452.4 724.1M482.1 727.1L463.0 729.1M470.9 733.1L463.0 729.1L470.2 724.0M500.2 727.1L480.0 729.2M488.3 733.4L480.0 729.2L487.6 723.8M518.4 727.1L496.9 729.3M505.8 733.8L496.9 729.3L505.1 723.6M536.6 727.1L513.9 729.5M523.3 734.2L513.9 729.5L522.5 723.4M554.8 727.1L532.1 729.5M541.5 734.2L532.1 729.5L540.7 723.4M573.0 727.1L549.1 729.6M559.0 734.6L549.1 729.6L558.1 723.2M591.1 727.1L566.1 729.7M576.4 734.9L566.1 729.7L575.5 723.0M609.3 727.1L584.3 729.7M594.6 734.9L584.3 729.7L593.7 723.0M627.5 727.1L602.4 729.7M612.8 734.9L602.4 729.7L611.9 723.0M645.7 727.1L619.4 729.8M630.3 735.3L619.4 729.8L629.3 722.8M663.9 727.1L637.6 729.8M648.5 735.3L637.6 729.8L647.5 722.8M682.0 727.1L657.0 729.7M667.3 734.9L657.0 729.7L666.4 723.0M700.2 727.1L677.6 729.5M686.9 734.2L677.6 729.5L686.1 723.4M718.4 727.1L698.1 729.2M706.5 733.4L698.1 729.2L705.8 723.8M736.6 727.1L717.5 729.1M725.4 733.1L717.5 729.1L724.7 724.0M754.8 727.1L734.5 729.2M742.9 733.4L734.5 729.2L742.1 723.8M772.9 727.1L752.7 729.2M761.0 733.4L752.7 729.2L760.3 723.8M791.1 727.1L772.0 729.1M779.9 733.1L772.0 729.1L779.2 724.0M9.4 745.3L3.9 739.8M5.3 743.1L3.9 739.8L7.5 740.1M27.6 745.3L21.6 739.3M23.2 742.9L21.6 739.3L25.5 739.7M45.8 745.3L39.8 739.3M41.3 742.9L39.8 739.3L43.7 739.7M63.9 745.3L58.0 739.3M59.5 742.9L58.0 739.3L61.8 739.7M82.1 745.3L78.3 741.5M79.3 743.7L78.3 741.5L80.8 741.7M100.3 745.3L96.5 741.5M97.5 743.7L96.5 741.5L98.9 741.7M118.5 745.3L115.1 741.9M115.9 743.9L115.1 741.9L117.3 742.1M136.7 745.3L133.3 741.9M134.1 743.9L133.3 741.9L135.5 742.1M154.8 745.3L150.6 741.0M151.7 743.6L150.6 741.0L153.3 741.3M173.0 745.3L167.1 739.3M168.6 742.9L167.1 739.3L170.9 739.7M191.2 745.3L184.4 738.5M186.1 742.5L184.4 738.5L188.8 738.8M209.4 745.3L202.2 738.1M204.0 742.4L202.2 738.1L206.8 738.4M227.6 745.3L220.3 738.1M222.2 742.4L220.3 738.1L225.0 738.4M245.7 745.3L238.9 738.5M240.7 742.5L238.9 738.5L243.3 738.8M263.9 745.3L257.1 738.5M258.9 742.5L257.1 738.5L261.5 738.8M282.1 745.3L274.5 737.6M276.4 742.2L274.5 737.6L279.4 738.0M300.3 745.3L290.9 735.9M293.3 741.5L290.9 735.9L297.0 736.4M318.4 745.3L308.3 735.1M310.9 741.2L308.3 735.1L314.9 735.6M336.6 745.3L324.8 733.4M327.8 740.5L324.8 733.4L332.5 734.0M354.8 745.3L341.7 732.1M345.0 740.0L341.7 732.1L350.2 732.8M373.0 745.3L359.0 731.3M362.6 739.6L359.0 731.3L368.1 732.0M391.2 745.3L376.7 730.8M380.4 739.5L376.7 730.8L386.1 731.6M409.4 745.3L390.9 747.2M398.5 751.1L390.9 747.2L397.8 742.3M427.5 745.3L409.0 747.2M416.7 751.1L409.0 747.2L416.0 742.3M445.7 745.3L427.2 747.2M434.9 751.1L427.2 747.2L434.2 742.3M463.9 745.3L445.4 747.2M453.0 751.1L445.4 747.2L452.4 742.3M482.1 745.3L463.0 747.3M470.9 751.2L463.0 747.3L470.2 742.2M500.2 745.3L480.0 747.4M488.3 751.6L480.0 747.4L487.6 742.0M518.4 745.3L496.9 747.5M505.8 752.0L496.9 747.5L505.1 741.8M536.6 745.3L513.9 747.7M523.3 752.4L513.9 747.7L522.5 741.6M554.8 745.3L530.9 747.8M540.8 752.7L530.9 747.8L539.9 741.4M573.0 745.3L549.1 747.8M559.0 752.7L549.1 747.8L558.1 741.4M591.1 745.3L566.1 747.9M576.4 753.1L566.1 747.9L575.5 741.2M609.3 745.3L584.3 747.9M594.6 753.1L584.3 747.9L593.7 741.2M627.5 745.3L602.4 747.9M612.8 753.1L602.4 747.9L611.9 741.2M645.7 745.3L620.6 747.9M631.0 753.1L620.6 747.9L630.1 741.2M663.9 745.3L638.8 747.9M649.2 753.1L638.8 747.9L648.3 741.2M682.0 745.3L659.4 747.7M668.7 752.4L659.4 747.7L667.9 741.6M700.2 745.3L678.7 747.5M687.6 752.0L678.7 747.5L686.9 741.8M718.4 745.3L698.1 747.4M706.5 751.6L698.1 747.4L705.8 742.0M736.6 745.3L717.5 747.3M725.4 751.2L717.5 747.3L724.7 742.2M754.8 745.3L735.7 747.3M743.6 751.2L735.7 747.3L742.9 742.2M772.9 745.3L753.9 747.3M761.7 751.2L753.9 747.3L761.1 742.2M791.1 745.3L772.0 747.3M779.9 751.2L772.0 747.3L779.2 742.2M9.4 763.4L5.1 759.2M6.2 761.7L5.1 759.2L7.9 759.4M27.6 763.4L22.9 758.8M24.1 761.6L22.9 758.8L25.9 759.0M45.8 763.4L41.1 758.8M42.3 761.6L41.1 758.8L44.1 759.0M63.9 763.4L59.3 758.8M60.5 761.6L59.3 758.8L62.3 759.0M82.1 763.4L77.4 758.8M78.6 761.6L77.4 758.8L80.5 759.0M100.3 763.4L96.0 759.2M97.1 761.7L96.0 759.2L98.8 759.4M118.5 763.4L114.2 759.2M115.3 761.7L114.2 759.2L117.0 759.4M136.7 763.4L132.4 759.2M133.5 761.7L132.4 759.2L135.2 759.4M154.8 763.4L150.2 758.8M151.4 761.6L150.2 758.8L153.2 759.0M173.0 763.4L167.1 757.5M168.6 761.1L167.1 757.5L170.9 757.8M191.2 763.4L184.0 756.2M185.8 760.5L184.0 756.2L188.7 756.6M209.4 763.4L201.7 755.8M203.7 760.4L201.7 755.8L206.7 756.2M227.6 763.4L220.3 756.2M222.2 760.5L220.3 756.2L225.0 756.6M245.7 763.4L238.9 756.7M240.7 760.7L238.9 756.7L243.3 757.0M263.9 763.4L256.3 755.8M258.2 760.4L256.3 755.8L261.2 756.2M282.1 763.4L274.5 755.8M276.4 760.4L274.5 755.8L279.4 756.2M300.3 763.4L291.4 754.5M293.6 759.9L291.4 754.5L297.1 755.0M318.4 763.4L307.8 752.8M310.6 759.2L307.8 752.8L314.7 753.4M336.6 763.4L324.8 751.6M327.8 758.7L324.8 751.6L332.5 752.2M354.8 763.4L342.1 750.7M345.4 758.3L342.1 750.7L350.3 751.4M373.0 763.4L359.4 749.9M362.9 758.0L359.4 749.9L368.2 750.6M391.2 763.4L377.2 749.4M380.8 757.8L377.2 749.4L386.2 750.2M409.4 763.4L389.7 765.5M397.8 769.6L389.7 765.5L397.1 760.3M427.5 763.4L407.8 765.5M416.0 769.6L407.8 765.5L415.3 760.3M445.7 763.4L427.2 765.4M434.9 769.2L427.2 765.4L434.2 760.4M463.9 763.4L445.4 765.4M453.0 769.2L445.4 765.4L452.4 760.4M482.1 763.4L463.0 765.5M470.9 769.4L463.0 765.5L470.2 760.3M500.2 763.4L480.0 765.6M488.3 769.8L480.0 765.6L487.6 760.2M518.4 763.4L496.9 765.7M505.8 770.2L496.9 765.7L505.1 760.0M536.6 763.4L513.9 765.8M523.3 770.5L513.9 765.8L522.5 759.8M554.8 763.4L530.9 766.0M540.8 770.9L530.9 766.0L539.9 759.6M573.0 763.4L549.1 766.0M559.0 770.9L549.1 766.0L558.1 759.6M591.1 763.4L566.1 766.1M576.4 771.3L566.1 766.1L575.5 759.4M609.3 763.4L584.3 766.1M594.6 771.3L584.3 766.1L593.7 759.4M627.5 763.4L602.4 766.1M612.8 771.3L602.4 766.1L611.9 759.4M645.7 763.4L621.8 766.0M631.7 770.9L621.8 766.0L630.8 759.6M663.9 763.4L640.0 766.0M649.9 770.9L640.0 766.0L649.0 759.6M682.0 763.4L659.4 765.8M668.7 770.5L659.4 765.8L667.9 759.8M700.2 763.4L678.7 765.7M687.6 770.2L678.7 765.7L686.9 760.0M718.4 763.4L698.1 765.6M706.5 769.8L698.1 765.6L705.8 760.2M736.6 763.4L717.5 765.5M725.4 769.4L717.5 765.5L724.7 760.3M754.8 763.4L735.7 765.5M743.6 769.4L735.7 765.5L742.9 760.3M772.9 763.4L754.5 765.4M762.1 769.2L754.5 765.4L761.4 760.4M791.1 763.4L772.6 765.4M780.3 769.2L772.6 765.4L779.6 760.4"/>
<g fill="#8a8a8a" shape-rendering="crispEdges">
<rect x="9" y="27" width="1" height="745"/>
<rect x="81" y="27" width="1" height="745"/>
<rect x="154" y="27" width="1" height="745"/>
<rect x="227" y="27" width="1" height="745"/>
<rect x="299" y="27" width="1" height="745"/>
<rect x="372" y="27" width="1" height="745"/>
<rect x="445" y="27" width="1" height="745"/>
<rect x="518" y="27" width="1" height="745"/>
<rect x="590" y="27" width="1" height="745"/>
<rect x="663" y="27" width="1" height="745"/>
<rect x="736" y="27" width="1" height="745"/>
<rect x="0" y="36" width="800" height="1"/>
<rect x="0" y="109" width="800" height="1"/>
<rect x="0" y="181" width="800" height="1"/>
<rect x="0" y="254" width="800" height="1"/>
<rect x="0" y="327" width="800" height="1"/>
<rect x="0" y="399" width="800" height="1"/>
<rect x="0" y="472" width="800" height="1"/>
<rect x="0" y="545" width="800" height="1"/>
<rect x="0" y="617" width="800" height="1"/>
<rect x="0" y="690" width="800" height="1"/>
<rect x="0" y="763" width="800" height="1"/>
</g>
<g fill="#000" shape-rendering="crispEdges">
<rect x="0" y="27" width="800" height="1"/>
<rect x="0" y="27" width="1" height="745"/>
<rect x="1" y="28" width="1" height="4"/>
<rect x="1" y="768" width="1" height="4"/>
<rect x="9" y="28" width="1" height="18"/>
<rect x="9" y="754" width="1" height="18"/>
<rect x="16" y="28" width="1" height="4"/>
<rect x="16" y="768" width="1" height="4"/>
<rect x="23" y="28" width="1" height="4"/>
<rect x="23" y="768" width="1" height="4"/>
<rect x="30" y="28" width="1" height="4"/>
<rect x="30" y="768" width="1" height="4"/>
<rect x="38" y="28" width="1" height="4"/>
<rect x="38" y="768" width="1" height="4"/>
<rect x="45" y="28" width="1" height="9"/>
<rect x="45" y="763" width="1" height="9"/>
<rect x="52" y="28" width="1" height="4"/>
<rect x="52" y="768" width="1" height="4"/>
<rect x="59" y="28" width="1" height="4"/>
<rect x="59" y="768" width="1" height="4"/>
<rect x="67" y="28" width="1" height="4"/>
<rect x="67" y="768" width="1" height="4"/>
<rect x="74" y="28" width="1" height="4"/>
<rect x="74" y="768" width="1" height="4"/>
<rect x="81" y="28" width="1" height="18"/>
<rect x="81" y="754" width="1" height="18"/>
<rect x="89" y="28" width="1" height="4"/>
<rect x="89" y="768" width="1" height="4"/>
<rect x="96" y="28" width="1" height="4"/>
<rect x="96" y="768" width="1" height="4"/>
<rect x="103" y="28" width="1" height="4"/>
<rect x="103" y="768" width="1" height="4"/>
<rect x="110" y="28" width="1" height="4"/>
<rect x="110" y="768" width="1" height="4"/>
<rect x="118" y="28" width="1" height="9"/>
<rect x="118" y="763" width="1" height="9"/>
<rect x="125" y="28" width="1" height="4"/>
<rect x="125" y="768" width="1" height="4"/>
<rect x="132" y="28" width="1" height="4"/>
<rect x="132" y="768" width="1" height="4"/>
<rect x="139" y="28" width="1" height="4"/>
<rect x="139" y="768" width="1" height="4"/>
<rect x="147" y="28" width="1" height="4"/>
<rect x="147" y="768" width="1" height="4"/>
<rect x="154" y="28" width="1" height="18"/>
<rect x="154" y="754" width="1" height="18"/>
<rect x="161" y="28" width="1" height="4"/>
<rect x="161" y="768" width="1" height="4"/>
<rect x="169" y="28" width="1" height="4"/>
<rect x="169" y="768" width="1" height="4"/>
<rect x="176" y="28" width="1" height="4"/>
<rect x="176" y="768" width="1" height="4"/>
<rect x="183" y="28" width="1" height="4"/>
<rect x="183" y="768" width="1" height="4"/>
<rect x="190" y="28" width="1" height="9"/>
<rect x="190" y="763" width="1" height="9"/>
<rect x="198" y="28" width="1" height="4"/>
<rect x="198" y="768" width="1" height="4"/>
<rect x="205" y="28" width="1" height="4"/>
<rect x="205" y="768" width="1" height="4"/>
<rect x="212" y="28" width="1" height="4"/>
<rect x="212" y="768" width="1" height="4"/>
<rect x="219" y="28" width="1" height="4"/>
<rect x="219" y="768" width="1" height="4"/>
<rect x="227" y="28" width="1" height="18"/>
<rect x="227" y="754" width="1" height="18"/>
<rect x="234" y="28" width="1" height="4"/>
<rect x="234" y="768" width="1" height="4"/>
<rect x="241" y="28" width="1" height="4"/>
<rect x="241" y="768" width="1" height="4"/>
<rect x="249" y="28" width="1" height="4"/>
<rect x="249" y="768" width="1" height="4"/>
<rect x="256" y="28" width="1" height="4"/>
<rect x="256" y="768" width="1" height="4"/>
<rect x="263" y="28" width="1" height="9"/>
<rect x="263" y="763" width="1" height="9"/>
<rect x="270" y="28" width="1" height="4"/>
<rect x="270" y="768" width="1" height="4"/>
<rect x="278" y="28" width="1" height="4"/>
<rect x="278" y="768" width="1" height="4"/>
<rect x="285" y="28" width="1" height="4"/>
<rect x="285" y="768" width="1" height="4"/>
<rect x="292" y="28" width="1" height="4"/>
<rect x="292" y="768" width="1" height="4"/>
<rect x="299" y="28" width="1" height="18"/>
<rect x="299" y="754" width="1" height="18"/>
<rect x="307" y="28" width="1" height="4"/>
<rect x="307" y="768" width="1" height="4"/>
<rect x="314" y="28" width="1" height="4"/>
<rect x="314" y="768" width="1" height="4"/>
<rect x="321" y="28" width="1" height="4"/>
<rect x="321" y="768" width="1" height="4"/>
<rect x="329" y="28" width="1" height="4"/>
<rect x="329" y="768" width="1" height="4"/>
<rect x="336" y="28" width="1" height="9"/>
<rect x="336" y="763" width="1" height="9"/>
<rect x="343" y="28" width="1" height="4"/>
<rect x="343" y="768" width="1" height="4"/>
<rect x="350" y="28" width="1" height="4"/>
<rect x="350" y="768" width="1" height="4"/>
<rect x="358" y="28" width="1" height="4"/>
<rect x="358" y="768" width="1" height="4"/>
<rect x="365" y="28" width="1" height="4"/>
<rect x="365" y="768" width="1" height="4"/>
<rect x="372" y="28" width="1" height="18"/>
<rect x="372" y="754" width="1" height="18"/>
<rect x="379" y="28" width="1" height="4"/>
<rect x="379" y="768" width="1" height="4"/>
<rect x="387" y="28" width="1" height="4"/>
<rect x="387" y="768" width="1" height="4"/>
<rect x="394" y="28" width="1" height="4"/>
<rect x="394" y="768" width="1" height="4"/>
<rect x="401" y="28" width="1" height="4"/>
<rect x="401" y="768" width="1" height="4"/>
<rect x="409" y="28" width="1" height="9"/>
<rect x="409" y="763" width="1" height="9"/>
<rect x="416" y="28" width="1" height="4"/>
<rect x="416" y="768" width="1" height="4"/>
<rect x="423" y="28" width="1" height="4"/>
<rect x="423" y="768" width="1" height="4"/>
<rect x="430" y="28" width="1" height="4"/>
<rect x="430" y="768" width="1" height="4"/>
<rect x="438" y="28" width="1" height="4"/>
<rect x="438" y="768" width="1" height="4"/>
<rect x="445" y="28" width="1" height="18"/>
<rect x="445" y="754" width="1" height="18"/>
<rect x="452" y="28" width="1" height="4"/>
<rect x="452" y="768" width="1" height="4"/>
<rect x="459" y="28" width="1" height="4"/>
<rect x="459" y="768" width="1" height="4"/>
<rect x="467" y="28" width="1" height="4"/>
<rect x="467" y="768" width="1" height="4"/>
<rect x="474" y="28" width="1" height="4"/>
<rect x="474" y="768" width="1" height="4"/>
<rect x="481" y="28" width="1" height="9"/>
<rect x="481" y="763" width="1" height="9"/>
<rect x="489" y="28" width="1" height="4"/>
<rect x="489" y="768" width="1" height="4"/>
<rect x="496" y="28" width="1" height="4"/>
<rect x="496" y="768" width="1" height="4"/>
<rect x="503" y="28" width="1" height="4"/>
<rect x="503" y="768" width="1" height="4"/>
<rect x="510" y="28" width="1" height="4"/>
<rect x="510" y="768" width="1" height="4"/>
<rect x="518" y="28" width="1" height="18"/>
<rect x="518" y="754" width="1" height="18"/>
<rect x="525" y="28" width="1" height="4"/>
<rect x="525" y="768" width="1" height="4"/>
<rect x="532" y="28" width="1" height="4"/>
<rect x="532" y="768" width="1" height="4"/>
<rect x="539" y="28" width="1" height="4"/>
<rect x="539" y="768" width="1" height="4"/>
<rect x="547" y="28" width="1" height="4"/>
<rect x="547" y="768" width="1" height="4"/>
<rect x="554" y="28" width="1" height="9"/>
<rect x="554" y="763" width="1" height="9"/>
<rect x="561" y="28" width="1" height="4"/>
<rect x="561" y="768" width="1" height="4"/>
<rect x="569" y="28" width="1" height="4"/>
<rect x="569" y="768" width="1" height="4"/>
<rect x="576" y="28" width="1" height="4"/>
<rect x="576" y="768" width="1" height="4"/>
<rect x="583" y="28" width="1" height="4"/>
<rect x="583" y="768" width="1" height="4"/>
<rect x="590" y="28" width="1" height="18"/>
<rect x="590" y="754" width="1" height="18"/>
<rect x="598" y="28" width="1" height="4"/>
<rect x="598" y="768" width="1" height="4"/>
<rect x="605" y="28" width="1" height="4"/>
<rect x="605" y="768" width="1" height="4"/>
<rect x="612" y="28" width="1" height="4"/>
<rect x="612" y="768" width="1" height="4"/>
<rect x="619" y="28" width="1" height="4"/>
<rect x="619" y="768" width="1" height="4"/>
<rect x="627" y="28" width="1" height="9"/>
<rect x="627" y="763" width="1" height="9"/>
<rect x="634" y="28" width="1" height="4"/>
<rect x="634" y="768" width="1" height="4"/>
<rect x="641" y="28" width="1" height="4"/>
<rect x="641" y="768" width="1" height="4"/>
<rect x="649" y="28" width="1" height="4"/>
<rect x="649" y="768" width="1" height="4"/>
<rect x="656" y="28" width="1" height="4"/>
<rect x="656" y="768" width="1" height="4"/>
<rect x="663" y="28" width="1" height="18"/>
<rect x="663" y="754" width="1" height="18"/>
<rect x="670" y="28" width="1" height="4"/>
<rect x="670" y="768" width="1" height="4"/>
<rect x="678" y="28" width="1" height="4"/>
<rect x="678" y="768" width="1" height="4"/>
<rect x="685" y="28" width="1" height="4"/>
<rect x="685" y="768" width="1" height="4"/>
<rect x="692" y="28" width="1" height="4"/>
<rect x="692" y="768" width="1" height="4"/>
<rect x="699" y="28" width="1" height="9"/>
<rect x="699" y="763" width="1" height="9"/>
<rect x="707" y="28" width="1" height="4"/>
<rect x="707" y="768" width="1" height="4"/>
<rect x="714" y="28" width="1" height="4"/>
<rect x="714" y="768" width="1" height="4"/>
<rect x="721" y="28" width="1" height="4"/>
<rect x="721" y="768" width="1" height="4"/>
<rect x="729" y="28" width="1" height="4"/>
<rect x="729" y="768" width="1" height="4"/>
<rect x="736" y="28" width="1" height="18"/>
<rect x="736" y="754" width="1" height="18"/>
<rect x="743" y="28" width="1" height="4"/>
<rect x="743" y="768" width="1" height="4"/>
<rect x="750" y="28" width="1" height="4"/>
<rect x="750" y="768" width="1" height="4"/>
<rect x="758" y="28" width="1" height="4"/>
<rect x="758" y="768" width="1" height="4"/>
<rect x="765" y="28" width="1" height="4"/>
<rect x="765" y="768" width="1" height="4"/>
<rect x="772" y="28" width="1" height="9"/>
<rect x="772" y="763" width="1" height="9"/>
<rect x="779" y="28" width="1" height="4"/>
<rect x="779" y="768" width="1" height="4"/>
<rect x="787" y="28" width="1" height="4"/>
<rect x="787" y="768" width="1" height="4"/>
<rect x="794" y="28" width="1" height="4"/>
<rect x="794" y="768" width="1" height="4"/>
<rect x="1" y="29" width="4" height="1"/>
<rect x="795" y="29" width="5" height="1"/>
<rect x="1" y="36" width="18" height="1"/>
<rect x="781" y="36" width="19" height="1"/>
<rect x="1" y="43" width="4" height="1"/>
<rect x="795" y="43" width="5" height="1"/>
<rect x="1" y="50" width="4" height="1"/>
<rect x="795" y="50" width="5" height="1"/>
<rect x="1" y="58" width="4" height="1"/>
<rect x="795" y="58" width="5" height="1"/>
<rect x="1" y="65" width="4" height="1"/>
<rect x="795" y="65" width="5" height="1"/>
<rect x="1" y="72" width="9" height="1"/>
<rect x="790" y="72" width="10" height="1"/>
<rect x="1" y="79" width="4" height="1"/>
<rect x="795" y="79" width="5" height="1"/>
<rect x="1" y="87" width="4" height="1"/>
<rect x="795" y="87" width="5" height="1"/>
<rect x="1" y="94" width="4" height="1"/>
<rect x="795" y="94" width="5" height="1"/>
<rect x="1" y="101" width="4" height="1"/>
<rect x="795" y="101" width="5" height="1"/>
<rect x="1" y="109" width="18" height="1"/>
<rect x="781" y="109" width="19" height="1"/>
<rect x="1" y="116" width="4" height="1"/>
<rect x="795" y="116" width="5" height="1"/>
<rect x="1" y="123" width="4" height="1"/>
<rect x="795" y="123" width="5" height="1"/>
<rect x="1" y="130" width="4" height="1"/>
<rect x="795" y="130" width="5" height="1"/>
<rect x="1" y="138" width="4" height="1"/>
<rect x="795" y="138" width="5" height="1"/>
<rect x="1" y="145" width="9" height="1"/>
<rect x="790" y="145" width="10" height="1"/>
<rect x="1" y="152" width="4" height="1"/>
<rect x="795" y="152" width="5" height="1"/>
<rect x="1" y="159" width="4" height="1"/>
<rect x="795" y="159" width="5" height="1"/>
<rect x="1" y="167" width="4" height="1"/>
<rect x="795" y="167" width="5" height="1"/>
<rect x="1" y="174" width="4" height="1"/>
<rect x="795" y="174" width="5" height="1"/>
<rect x="1" y="181" width="18" height="1"/>
<rect x="781" y="181" width="19" height="1"/>
<rect x="1" y="188" width="4" height="1"/>
<rect x="795" y="188" width="5" height="1"/>
<rect x="1" y="196" width="4" height="1"/>
<rect x="795" y="196" width="5" height="1"/>
<rect x="1" y="203" width="4" height="1"/>
<rect x="795" y="203" width="5" height="1"/>
<rect x="1" y="210" width="4" height="1"/>
<rect x="795" y="210" width="5" height="1"/>
<rect x="1" y="218" width="9" height="1"/>
<rect x="790" y="218" width="10" height="1"/>
<rect x="1" y="225" width="4" height="1"/>
<rect x="795" y="225" width="5" height="1"/>
<rect x="1" y="232" width="4" height="1"/>
<rect x="795" y="232" width="5" height="1"/>
<rect x="1" y="239" width="4" height="1"/>
<rect x="795" y="239" width="5" height="1"/>
<rect x="1" y="247" width="4" height="1"/>
<rect x="795" y="247" width="5" height="1"/>
<rect x="1" y="254" width="18" height="1"/>
<rect x="781" y="254" width="19" height="1"/>
<rect x="1" y="261" width="4" height="1"/>
<rect x="795" y="261" width="5" height="1"/>
<rect x="1" y="268" width="4" height="1"/>
<rect x="795" y="268" width="5" height="1"/>
<rect x="1" y="276" width="4" height="1"/>
<rect x="795" y="276" width="5" height="1"/>
<rect x="1" y="283" width="4" height="1"/>
<rect x="795" y="283" width="5" height="1"/>
<rect x="1" y="290" width="9" height="1"/>
<rect x="790" y="290" width="10" height="1"/>
<rect x="1" y="298" width="4" height="1"/>
<rect x="795" y="298" width="5" height="1"/>
<rect x="1" y="305" width="4" height="1"/>
<rect x="795" y="305" width="5" height="1"/>
<rect x="1" y="312" width="4" height="1"/>
<rect x="795" y="312" width="5" height="1"/>
<rect x="1" y="319" width="4" height="1"/>
<rect x="795" y="319" width="5" height="1"/>
<rect x="1" y="327" width="18" height="1"/>
<rect x="781" y="327" width="19" height="1"/>
<rect x="1" y="334" width="4" height="1"/>
<rect x="795" y="334" width="5" height="1"/>
<rect x="1" y="341" width="4" height="1"/>
<rect x="795" y="341" width="5" height="1"/>
<rect x="1" y="348" width="4" height="1"/>
<rect x="795" y="348" width="5" height="1"/>
<rect x="1" y="356" width="4" height="1"/>
<rect x="795" y="356" width="5" height="1"/>
<rect x="1" y="363" width="9" height="1"/>
<rect x="790" y="363" width="10" height="1"/>
<rect x="1" y="370" width="4" height="1"/>
<rect x="795" y="370" width="5" height="1"/>
<rect x="1" y="377" width="4" height="1"/>
<rect x="795" y="377" width="5" height="1"/>
<rect x="1" y="385" width="4" height="1"/>
<rect x="795" y="385" width="5" height="1"/>
<rect x="1" y="392" width="4" height="1"/>
<rect x="795" y="392" width="5" height="1"/>
<rect x="1" y="399" width="18" height="1"/>
<rect x="781" y="399" width="19" height="1"/>
<rect x="1" y="407" width="4" height="1"/>
<rect x="795" y="407" width="5" height="1"/>
<rect x="1" y="414" width="4" height="1"/>
<rect x="795" y="414" width="5" height="1"/>
<rect x="1" y="421" width="4" height="1"/>
<rect x="795" y="421" width="5" height="1"/>
<rect x="1" y="428" width="4" height="1"/>
<rect x="795" y="428" width="5" height="1"/>
<rect x="1" y="436" width="9" height="1"/>
<rect x="790" y="436" width="10" height="1"/>
<rect x="1" y="443" width="4" height="1"/>
<rect x="795" y="443" width="5" height="1"/>
<rect x="1" y="450" width="4" height="1"/>
<rect x="795" y="450" width="5" height="1"/>
<rect x="1" y="457" width="4" height="1"/>
<rect x="795" y="457" width="5" height="1"/>
<rect x="1" y="465" width="4" height="1"/>
<rect x="795" y="465" width="5" height="1"/>
<rect x="1" y="472" width="18" height="1"/>
<rect x="781" y="472" width="19" height="1"/>
<rect x="1" y="479" width="4" height="1"/>
<rect x="795" y="479" width="5" height="1"/>
<rect x="1" y="487" width="4" height="1"/>
<rect x="795" y="487" width="5" height="1"/>
<rect x="1" y="494" width="4" height="1"/>
<rect x="795" y="494" width="5" height="1"/>
<rect x="1" y="501" width="4" height="1"/>
<rect x="795" y="501" width="5" height="1"/>
<rect x="1" y="508" width="9" height="1"/>
<rect x="790" y="508" width="10" height="1"/>
<rect x="1" y="516" width="4" height="1"/>
<rect x="795" y="516" width="5" height="1"/>
<rect x="1" y="523" width="4" height="1"/>
<rect x="795" y="523" width="5" height="1"/>
<rect x="1" y="530" width="4" height="1"/>
<rect x="795" y="530" width="5" height="1"/>
<rect x="1" y="537" width="4" height="1"/>
<rect x="795" y="537" width="5" height="1"/>
<rect x="1" y="545" width="18" height="1"/>
<rect x="781" y="545" width="19" height="1"/>
<rect x="1" y="552" width="4" height="1"/>
<rect x="795" y="552" width="5" height="1"/>
<rect x="1" y="559" width="4" height="1"/>
<rect x="795" y="559" width="5" height="1"/>
<rect x="1" y="567" width="4" height="1"/>
<rect x="795" y="567" width="5" height="1"/>
<rect x="1" y="574" width="4" height="1"/>
<rect x="795" y="574" width="5" height="1"/>
<rect x="1" y="581" width="9" height="1"/>
<rect x="790" y="581" width="10" height="1"/>
<rect x="1" y="588" width="4" height="1"/>
<rect x="795" y="588" width="5" height="1"/>
<rect x="1" y="596" width="4" height="1"/>
<rect x="795" y="596" width="5" height="1"/>
<rect x="1" y="603" width="4" height="1"/>
<rect x="795" y="603" width="5" height="1"/>
<rect x="1" y="610" width="4" height="1"/>
<rect x="795" y="610" width="5" height="1"/>
<rect x="1" y="617" width="18" height="1"/>
<rect x="781" y="617" width="19" height="1"/>
<rect x="1" y="625" width="4" height="1"/>
<rect x="795" y="625" width="5" height="1"/>
<rect x="1" y="632" width="4" height="1"/>
<rect x="795" y="632" width="5" height="1"/>
<rect x="1" y="639" width="4" height="1"/>
<rect x="795" y="639" width="5" height="1"/>
<rect x="1" y="646" width="4" height="1"/>
<rect x="795" y="646" width="5" height="1"/>
<rect x="1" y="654" width="9" height="1"/>
<rect x="790" y="654" width="10" height="1"/>
<rect x="1" y="661" width="4" height="1"/>
<rect x="795" y="661" width="5" height="1"/>
<rect x="1" y="668" width="4" height="1"/>
<rect x="795" y="668" width="5" height="1"/>
<rect x="1" y="676" width="4" height="1"/>
<rect x="795" y="676" width="5" height="1"/>
<rect x="1" y="683" width="4" height="1"/>
<rect x="795" y="683" width="5" height="1"/>
<rect x="1" y="690" width="18" height="1"/>
<rect x="781" y="690" width="19" height="1"/>
<rect x="1" y="697" width="4" height="1"/>
<rect x="795" y="697" width="5" height="1"/>
<rect x="1" y="705" width="4" height="1"/>
<rect x="795" y="705" width="5" height="1"/>
<rect x="1" y="712" width="4" height="1"/>
<rect x="795" y="712" width="5" height="1"/>
<rect x="1" y="719" width="4" height="1"/>
<rect x="795" y="719" width="5" height="1"/>
<rect x="1" y="726" width="9" height="1"/>
<rect x="790" y="726" width="10" height="1"/>
<rect x="1" y="734" width="4" height="1"/>
<rect x="795" y="734" width="5" height="1"/>
<rect x="1" y="741" width="4" height="1"/>
<rect x="795" y="741" width="5" height="1"/>
<rect x="1" y="748" width="4" height="1"/>
<rect x="795" y="748" width="5" height="1"/>
<rect x="1" y="756" width="4" height="1"/>
<rect x="795" y="756" width="5" height="1"/>
<rect x="1" y="763" width="18" height="1"/>
<rect x="781" y="763" width="19" height="1"/>
<rect x="1" y="770" width="4" height="1"/>
<rect x="795" y="770" width="5" height="1"/>
</g>
<g font-family="DejaVu Sans, sans-serif" font-weight="bold" font-size="24" fill="#808080">
<text x="5.2" y="50" textLength="387.6" lengthAdjust="spacing">modelo GEFS-WAVE (NCEP)</text>
<text x="5.5" y="72.3" textLength="496" lengthAdjust="spacing">forecast date: 2023-08-15 00:00:00</text>
<text x="41.6" y="95" textLength="449" lengthAdjust="spacing">valid date: 2023-08-19 00:00:00</text>
</g>
<g fill="none" stroke="#000" stroke-width="1" stroke-linejoin="round" shape-rendering="crispEdges">
<polyline points="241.0,27.0 234.0,30.0 235.0,42.0 232.5,52.0 228.8,62.0 222.5,68.0 225.5,73.0 227.0,83.0 225.5,93.0 213.8,99.5 216.0,107.0 215.5,117.0 213.8,121.5 220.0,129.5 212.5,142.0 212.5,157.0 213.8,169.5 216.0,179.5 213.8,186.0 205.0,188.0 196.0,189.5 197.5,202.0 192.4,207.0 188.9,215.8 187.1,231.5 188.0,236.8 193.2,243.8 195.0,254.2 198.5,257.8 199.4,267.4 195.0,272.6 185.4,275.2 188.9,277.0 194.1,280.5 190.6,285.8 192.4,291.0 199.4,295.4 205.5,301.5 214.2,308.5 226.5,312.0 235.2,315.5 247.5,319.0 259.8,326.0 268.8,332.5 277.5,339.5 283.6,346.5 288.0,353.5 289.8,359.6 286.2,365.8 280.1,371.9 274.9,378.9 272.2,386.8 272.2,393.8 274.9,402.5 277.5,405.2 281.9,411.4 288.0,417.5 295.0,421.9 303.8,427.1 308.1,425.4 316.9,422.8 319.5,424.5 321.2,428.0 322.1,438.5 323.9,449.0 324.5,464.5 317.5,473.2 310.0,482.0 302.5,493.2 297.5,500.8 290.0,508.2 282.5,514.5 275.0,519.5 267.5,527.0 263.8,533.2 261.2,539.5 261.2,549.5 258.8,554.5 250.0,558.2 237.5,563.2 227.5,569.5 222.5,572.0 212.5,575.8 200.0,580.8 186.2,585.6 181.2,586.9 165.0,590.6 155.0,594.4 150.0,595.6 130.0,598.8 105.0,602.5 90.0,606.0 82.0,607.5 31.9,612.5 25.0,614.4 18.8,615.6 8.8,615.0 5.0,616.9 0.0,617.5"/>
<polyline points="212.5,142.0 216.0,157.0 218.0,169.5 223.0,174.5 223.0,179.5 220.0,184.5 212.5,190.0 201.0,189.5 201.0,200.0 201.1,205.2 196.8,209.6 198.8,214.0 195.9,221.0 195.9,235.0 196.8,247.2 200.2,251.6 206.4,256.0 211.6,262.1 217.8,265.6 223.0,270.0 230.0,277.0 235.2,282.2 237.0,288.4 242.2,287.5 247.5,285.8 255.4,285.4 259.8,286.6 266.8,285.8 273.8,285.4 282.5,285.8 290.4,286.6 294.8,291.0 300.2,295.8 307.2,301.9 314.2,305.4 324.8,306.2 331.8,308.9 335.2,310.1 342.2,311.1 345.8,312.4 343.1,315.0 347.5,317.6 351.0,320.2 355.4,319.4 357.1,318.5 358.9,321.1 360.6,322.0 365.0,320.0 372.0,317.6 379.0,312.4 386.0,310.6 394.8,310.6 400.0,311.5 410.0,312.0 422.5,314.5 425.0,317.5 436.2,318.2 440.0,319.5 445.0,321.5 448.8,325.0 460.0,320.8 475.0,315.8 487.5,312.0 495.0,308.2 497.5,302.0 493.8,300.8 496.2,297.0 500.0,298.2 507.5,302.0 515.0,295.8 525.0,289.5 535.0,282.0 536.2,277.0 535.0,273.2 538.8,267.0 545.0,262.0 547.5,254.5 553.8,247.0 557.5,239.5 560.0,235.8 565.0,234.5 575.0,230.8 582.5,227.0 600.0,208.2 617.5,188.0 627.5,172.0 632.5,160.0 637.5,145.0 647.0,127.0 657.5,118.0 671.5,104.9 685.5,97.0 701.2,88.2 718.8,76.0 735.4,62.9 748.5,48.0 759.0,35.8 765.1,28.8 766.0,27.0"/>
<polyline points="405.0,27.0 416.2,37.0 420.0,44.5 426.2,52.0 430.0,54.5 438.8,58.2 450.0,63.2 460.0,68.2 466.2,68.2 475.0,73.2 482.5,78.2 488.8,87.0 497.5,94.5 507.5,101.5 511.2,100.2 517.5,102.0 523.8,104.5 528.8,109.5 535.0,112.0 537.5,119.5 542.5,127.0 545.0,134.5 550.0,142.0 560.0,149.5 567.5,152.0 575.0,153.2 583.8,162.0 575.0,170.8 568.8,174.5 567.5,179.5 557.5,184.5 552.5,192.0 551.2,202.0 552.5,214.5 551.2,227.0 552.5,230.8 556.2,233.2 563.8,235.8"/>
<polyline points="700.4,27.0 701.2,30.5 700.4,34.0 702.1,39.2 701.2,41.9 696.0,43.6 692.5,44.5 689.9,48.0 689.0,53.2 682.0,55.0 671.5,57.6 667.0,60.2 664.5,64.6 661.0,72.0 658.0,77.0 660.0,79.0 663.0,78.0 661.0,81.2 657.5,84.8 650.5,87.4 647.9,90.0 647.0,97.0 645.2,100.5 647.0,104.0 645.2,107.5 645.2,112.8 648.8,114.5 650.5,116.2 654.0,112.8 657.5,111.0 656.6,116.2 657.5,118.9"/>
<polyline points="657.5,111.0 662.8,97.0 665.0,99.0 668.0,96.0 675.0,94.4 682.0,91.8 690.8,86.5 697.8,81.2 702.1,77.8 701.2,75.1 704.8,72.5 705.6,74.2 710.0,73.4 717.0,70.8 722.2,64.6 725.8,58.5 724.9,49.8 725.8,42.8 727.5,41.0 734.5,40.1 737.1,41.0 739.8,41.9 738.0,44.5 736.5,43.0 737.1,36.6 738.9,33.1 738.0,29.6 738.0,27.0"/>
</g>
<g font-family="Liberation Sans, DejaVu Sans, sans-serif" font-size="12.3" fill="#808080">
<text x="771" y="105.0" textLength="21" lengthAdjust="spacingAndGlyphs">32S</text>
<text x="771" y="177.0" textLength="21" lengthAdjust="spacingAndGlyphs">33S</text>
<text x="771" y="250.0" textLength="21" lengthAdjust="spacingAndGlyphs">34S</text>
<text x="771" y="323.0" textLength="21" lengthAdjust="spacingAndGlyphs">35S</text>
<text x="771" y="395.0" textLength="21" lengthAdjust="spacingAndGlyphs">36S</text>
<text x="771" y="468.0" textLength="21" lengthAdjust="spacingAndGlyphs">37S</text>
<text x="771" y="541.0" textLength="21" lengthAdjust="spacingAndGlyphs">38S</text>
<text x="771" y="613.0" textLength="21" lengthAdjust="spacingAndGlyphs">39S</text>
<text x="771" y="686.0" textLength="21" lengthAdjust="spacingAndGlyphs">40S</text>
<text x="771" y="759.0" textLength="21" lengthAdjust="spacingAndGlyphs">41S</text>
</g>
<g font-family="Liberation Sans, DejaVu Sans, sans-serif" font-size="12" fill="#808080">
<text transform="translate(13.3,744) rotate(90)" textLength="20.4" lengthAdjust="spacingAndGlyphs">61W</text>
<text transform="translate(86.0,744) rotate(90)" textLength="20.4" lengthAdjust="spacingAndGlyphs">60W</text>
<text transform="translate(158.8,744) rotate(90)" textLength="20.4" lengthAdjust="spacingAndGlyphs">59W</text>
<text transform="translate(231.5,744) rotate(90)" textLength="20.4" lengthAdjust="spacingAndGlyphs">58W</text>
<text transform="translate(304.2,744) rotate(90)" textLength="20.4" lengthAdjust="spacingAndGlyphs">57W</text>
<text transform="translate(377.0,744) rotate(90)" textLength="20.4" lengthAdjust="spacingAndGlyphs">56W</text>
<text transform="translate(449.7,744) rotate(90)" textLength="20.4" lengthAdjust="spacingAndGlyphs">55W</text>
<text transform="translate(522.4,744) rotate(90)" textLength="20.4" lengthAdjust="spacingAndGlyphs">54W</text>
<text transform="translate(595.1,744) rotate(90)" textLength="20.4" lengthAdjust="spacingAndGlyphs">53W</text>
<text transform="translate(667.9,744) rotate(90)" textLength="20.4" lengthAdjust="spacingAndGlyphs">52W</text>
<text transform="translate(740.6,744) rotate(90)" textLength="20.4" lengthAdjust="spacingAndGlyphs">51W</text>
</g>
<rect x="32.5" y="160.5" width="48" height="607" fill="#fff" stroke="#000" stroke-width="1" shape-rendering="crispEdges"/>
<rect x="34" y="162" width="45" height="605" fill="url(#cb)"/>
<g font-family="Liberation Sans, DejaVu Sans, sans-serif" font-size="16" fill="#000">
<text x="34.5" y="148.5" font-size="16" textLength="42.5" lengthAdjust="spacing">[m/s]</text>
<text x="86.5" y="166" letter-spacing="1.2">30</text>
<text x="86.5" y="318" letter-spacing="1.2">22</text>
<text x="86.5" y="470" letter-spacing="1.2">15</text>
<text x="86.5" y="621.5" letter-spacing="1.2">8</text>
<text x="86.5" y="773.5" letter-spacing="1.2">0</text>
</g>
</svg></body></html>
